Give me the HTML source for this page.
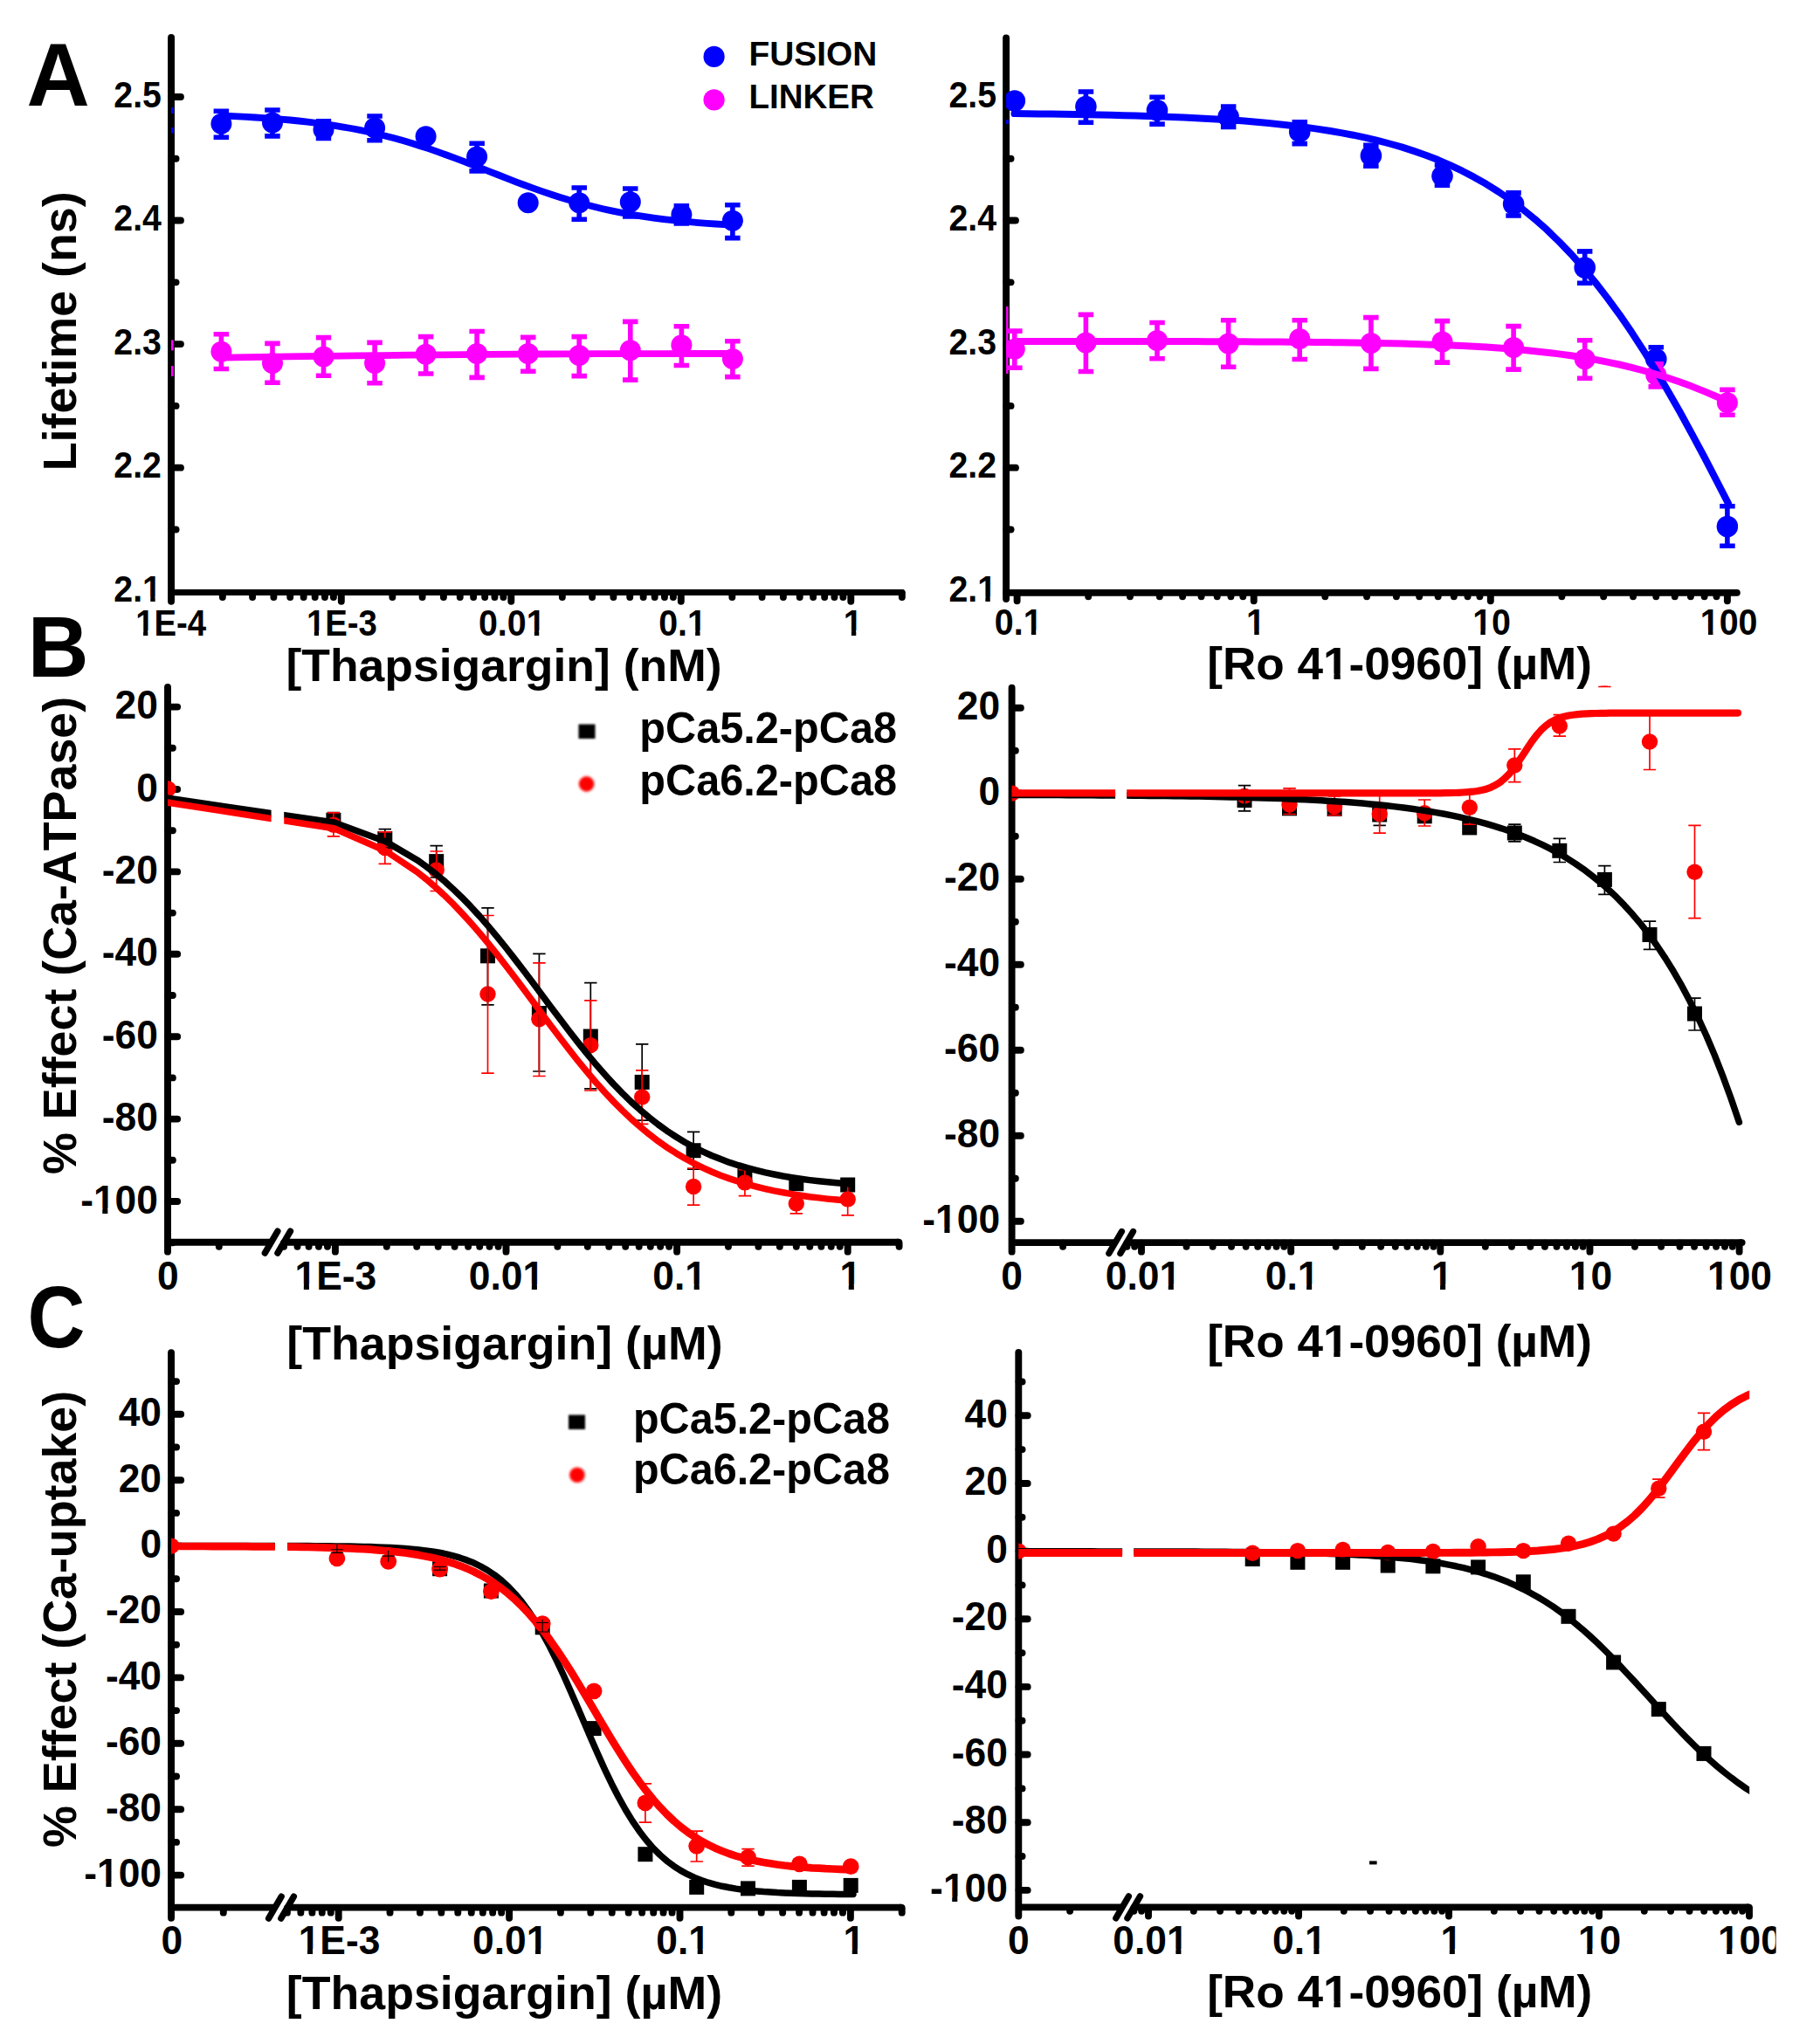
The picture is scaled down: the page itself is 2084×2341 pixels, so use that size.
<!DOCTYPE html><html><head><meta charset="utf-8"><title>figure</title><style>html,body{margin:0;padding:0;background:#fff}svg{display:block}</style></head><body><svg width="2084" height="2341" viewBox="0 0 2084 2341" font-family="Liberation Sans, Arial, Helvetica, sans-serif" font-weight="bold" fill="#000" style="font-kerning:none">
<rect width="2084" height="2341" fill="#fff"/>
<defs><filter id="bl" x="-50%" y="-50%" width="200%" height="200%"><feGaussianBlur stdDeviation="1.1"/></filter><filter id="bl2" x="-50%" y="-50%" width="200%" height="200%"><feGaussianBlur stdDeviation="1.7"/></filter></defs>
<text x="30.50" y="121.30" font-size="102" textLength="72.22" lengthAdjust="spacingAndGlyphs" >A</text>
<text x="31.71" y="774.60" font-size="99" textLength="69.85" lengthAdjust="spacingAndGlyphs" >B</text>
<text x="31.55" y="1542.90" font-size="100" textLength="65.93" lengthAdjust="spacingAndGlyphs" >C</text>
<line x1="196.05" y1="42.95" x2="196.05" y2="688.75" stroke="#000" stroke-width="7.9" stroke-linecap="round"/>
<line x1="196.05" y1="678.50" x2="1032.95" y2="678.50" stroke="#000" stroke-width="6.9" stroke-linecap="round"/>
<line x1="196.35" y1="111.00" x2="206.95" y2="111.00" stroke="#000" stroke-width="7.9" stroke-linecap="round"/>
<line x1="196.35" y1="252.55" x2="206.95" y2="252.55" stroke="#000" stroke-width="7.9" stroke-linecap="round"/>
<line x1="196.35" y1="394.10" x2="206.95" y2="394.10" stroke="#000" stroke-width="7.9" stroke-linecap="round"/>
<line x1="196.35" y1="535.65" x2="206.95" y2="535.65" stroke="#000" stroke-width="7.9" stroke-linecap="round"/>
<line x1="196.35" y1="181.78" x2="201.55" y2="181.78" stroke="#000" stroke-width="7.9" stroke-linecap="round"/>
<line x1="196.35" y1="323.33" x2="201.55" y2="323.33" stroke="#000" stroke-width="7.9" stroke-linecap="round"/>
<line x1="196.35" y1="464.88" x2="201.55" y2="464.88" stroke="#000" stroke-width="7.9" stroke-linecap="round"/>
<line x1="196.35" y1="606.43" x2="201.55" y2="606.43" stroke="#000" stroke-width="7.9" stroke-linecap="round"/>
<line x1="390.80" y1="679.10" x2="390.80" y2="688.75" stroke="#000" stroke-width="7.9" stroke-linecap="round"/>
<line x1="585.30" y1="679.10" x2="585.30" y2="688.75" stroke="#000" stroke-width="7.9" stroke-linecap="round"/>
<line x1="779.80" y1="679.10" x2="779.80" y2="688.75" stroke="#000" stroke-width="7.9" stroke-linecap="round"/>
<line x1="974.30" y1="679.10" x2="974.30" y2="688.75" stroke="#000" stroke-width="7.9" stroke-linecap="round"/>
<line x1="254.85" y1="679.10" x2="254.85" y2="684.05" stroke="#000" stroke-width="7.9" stroke-linecap="round"/>
<line x1="289.10" y1="679.10" x2="289.10" y2="684.05" stroke="#000" stroke-width="7.9" stroke-linecap="round"/>
<line x1="313.40" y1="679.10" x2="313.40" y2="684.05" stroke="#000" stroke-width="7.9" stroke-linecap="round"/>
<line x1="332.25" y1="679.10" x2="332.25" y2="684.05" stroke="#000" stroke-width="7.9" stroke-linecap="round"/>
<line x1="347.65" y1="679.10" x2="347.65" y2="684.05" stroke="#000" stroke-width="7.9" stroke-linecap="round"/>
<line x1="360.67" y1="679.10" x2="360.67" y2="684.05" stroke="#000" stroke-width="7.9" stroke-linecap="round"/>
<line x1="371.95" y1="679.10" x2="371.95" y2="684.05" stroke="#000" stroke-width="7.9" stroke-linecap="round"/>
<line x1="381.90" y1="679.10" x2="381.90" y2="684.05" stroke="#000" stroke-width="7.9" stroke-linecap="round"/>
<line x1="449.35" y1="679.10" x2="449.35" y2="684.05" stroke="#000" stroke-width="7.9" stroke-linecap="round"/>
<line x1="483.60" y1="679.10" x2="483.60" y2="684.05" stroke="#000" stroke-width="7.9" stroke-linecap="round"/>
<line x1="507.90" y1="679.10" x2="507.90" y2="684.05" stroke="#000" stroke-width="7.9" stroke-linecap="round"/>
<line x1="526.75" y1="679.10" x2="526.75" y2="684.05" stroke="#000" stroke-width="7.9" stroke-linecap="round"/>
<line x1="542.15" y1="679.10" x2="542.15" y2="684.05" stroke="#000" stroke-width="7.9" stroke-linecap="round"/>
<line x1="555.17" y1="679.10" x2="555.17" y2="684.05" stroke="#000" stroke-width="7.9" stroke-linecap="round"/>
<line x1="566.45" y1="679.10" x2="566.45" y2="684.05" stroke="#000" stroke-width="7.9" stroke-linecap="round"/>
<line x1="576.40" y1="679.10" x2="576.40" y2="684.05" stroke="#000" stroke-width="7.9" stroke-linecap="round"/>
<line x1="643.85" y1="679.10" x2="643.85" y2="684.05" stroke="#000" stroke-width="7.9" stroke-linecap="round"/>
<line x1="678.10" y1="679.10" x2="678.10" y2="684.05" stroke="#000" stroke-width="7.9" stroke-linecap="round"/>
<line x1="702.40" y1="679.10" x2="702.40" y2="684.05" stroke="#000" stroke-width="7.9" stroke-linecap="round"/>
<line x1="721.25" y1="679.10" x2="721.25" y2="684.05" stroke="#000" stroke-width="7.9" stroke-linecap="round"/>
<line x1="736.65" y1="679.10" x2="736.65" y2="684.05" stroke="#000" stroke-width="7.9" stroke-linecap="round"/>
<line x1="749.67" y1="679.10" x2="749.67" y2="684.05" stroke="#000" stroke-width="7.9" stroke-linecap="round"/>
<line x1="760.95" y1="679.10" x2="760.95" y2="684.05" stroke="#000" stroke-width="7.9" stroke-linecap="round"/>
<line x1="770.90" y1="679.10" x2="770.90" y2="684.05" stroke="#000" stroke-width="7.9" stroke-linecap="round"/>
<line x1="838.35" y1="679.10" x2="838.35" y2="684.05" stroke="#000" stroke-width="7.9" stroke-linecap="round"/>
<line x1="872.60" y1="679.10" x2="872.60" y2="684.05" stroke="#000" stroke-width="7.9" stroke-linecap="round"/>
<line x1="896.90" y1="679.10" x2="896.90" y2="684.05" stroke="#000" stroke-width="7.9" stroke-linecap="round"/>
<line x1="915.75" y1="679.10" x2="915.75" y2="684.05" stroke="#000" stroke-width="7.9" stroke-linecap="round"/>
<line x1="931.15" y1="679.10" x2="931.15" y2="684.05" stroke="#000" stroke-width="7.9" stroke-linecap="round"/>
<line x1="944.17" y1="679.10" x2="944.17" y2="684.05" stroke="#000" stroke-width="7.9" stroke-linecap="round"/>
<line x1="955.45" y1="679.10" x2="955.45" y2="684.05" stroke="#000" stroke-width="7.9" stroke-linecap="round"/>
<line x1="965.40" y1="679.10" x2="965.40" y2="684.05" stroke="#000" stroke-width="7.9" stroke-linecap="round"/>
<line x1="1032.85" y1="679.10" x2="1032.85" y2="684.05" stroke="#000" stroke-width="7.9" stroke-linecap="round"/>
<text x="130.35" y="122.70" font-size="42" textLength="54.60" lengthAdjust="spacingAndGlyphs" >2.5</text>
<text x="130.35" y="264.25" font-size="42" textLength="54.60" lengthAdjust="spacingAndGlyphs" >2.4</text>
<text x="130.35" y="405.80" font-size="42" textLength="54.60" lengthAdjust="spacingAndGlyphs" >2.3</text>
<text x="130.35" y="547.35" font-size="42" textLength="54.60" lengthAdjust="spacingAndGlyphs" >2.2</text>
<text x="130.35" y="688.90" font-size="42" textLength="54.60" lengthAdjust="spacingAndGlyphs" >2.1</text>
<path d="M164.38,683.51H172.27V690.10H164.38ZM177.66,683.51H185.06V690.10H177.66Z" fill="#fff" />
<text x="155.15" y="727.50" font-size="42" textLength="80.98" lengthAdjust="spacingAndGlyphs" >1E-4</text>
<path d="M156.37,722.11H164.10V728.70H156.37ZM169.36,722.11H176.61V728.70H169.36Z" fill="#fff" />
<text x="350.88" y="727.50" font-size="42" textLength="80.98" lengthAdjust="spacingAndGlyphs" >1E-3</text>
<path d="M352.09,722.11H359.82V728.70H352.09ZM365.08,722.11H372.33V728.70H365.08Z" fill="#fff" />
<text x="547.93" y="727.50" font-size="42" textLength="76.61" lengthAdjust="spacingAndGlyphs" >0.01</text>
<path d="M603.93,722.11H611.84V728.70H603.93ZM617.24,722.11H624.64V728.70H617.24Z" fill="#fff" />
<text x="754.16" y="727.50" font-size="42" textLength="54.72" lengthAdjust="spacingAndGlyphs" >0.1</text>
<path d="M788.26,722.11H796.17V728.70H788.26ZM801.57,722.11H808.98V728.70H801.57Z" fill="#fff" />
<text x="965.69" y="727.50" font-size="42" textLength="21.89" lengthAdjust="spacingAndGlyphs" >1</text>
<path d="M966.97,722.11H974.88V728.70H966.97ZM980.28,722.11H987.69V728.70H980.28Z" fill="#fff" />
<text x="327.46" y="779.70" font-size="52.5" textLength="499.07" lengthAdjust="spacingAndGlyphs" >[Thapsigargin] (nM)</text>
<text x="87.00" y="539.30" font-size="53.5" textLength="319.99" lengthAdjust="spacingAndGlyphs" transform="rotate(-90 87.00 539.30)" >Lifetime (ns)</text>
<circle cx="817.6" cy="64.9" r="12.1" fill="#0000ff" />
<circle cx="817.6" cy="114.4" r="12.1" fill="#ff00ff" />
<text x="857.47" y="75.00" font-size="39.5" textLength="146.76" lengthAdjust="spacingAndGlyphs" >FUSION</text>
<text x="857.50" y="123.50" font-size="39.5" textLength="143.36" lengthAdjust="spacingAndGlyphs" >LINKER</text>
<clipPath id="cp1"><rect x="196.1" y="30.0" width="844.0" height="650.0"/></clipPath>
<g clip-path="url(#cp1)">
<path d="M253.4,127.2V157.3M244.6,127.2H262.1M244.6,157.3H262.1" stroke="#0000ff" stroke-width="5.6" fill="none"/>
<path d="M312.0,126.0V155.9M303.2,126.0H320.7M303.2,155.9H320.7" stroke="#0000ff" stroke-width="5.6" fill="none"/>
<path d="M370.5,138.7V158.5M361.8,138.7H379.2M361.8,158.5H379.2" stroke="#0000ff" stroke-width="5.6" fill="none"/>
<path d="M429.1,133.0V160.8M420.3,133.0H437.8M420.3,160.8H437.8" stroke="#0000ff" stroke-width="5.6" fill="none"/>
<path d="M546.1,164.3V195.9M537.4,164.3H554.9M537.4,195.9H554.9" stroke="#0000ff" stroke-width="5.6" fill="none"/>
<path d="M663.2,215.0V251.2M654.5,215.0H672.0M654.5,251.2H672.0" stroke="#0000ff" stroke-width="5.6" fill="none"/>
<path d="M721.8,216.0V248.0M713.0,216.0H730.5M713.0,248.0H730.5" stroke="#0000ff" stroke-width="5.6" fill="none"/>
<path d="M780.4,235.8V255.9M771.6,235.8H789.1M771.6,255.9H789.1" stroke="#0000ff" stroke-width="5.6" fill="none"/>
<path d="M838.9,234.7V272.6M830.1,234.7H847.6M830.1,272.6H847.6" stroke="#0000ff" stroke-width="5.6" fill="none"/>
<circle cx="253.4" cy="141.8" r="12" fill="#0000ff" />
<circle cx="312.0" cy="140.5" r="12" fill="#0000ff" />
<circle cx="370.5" cy="148.6" r="12" fill="#0000ff" />
<circle cx="429.1" cy="146.6" r="12" fill="#0000ff" />
<circle cx="487.6" cy="156.3" r="12" fill="#0000ff" />
<circle cx="546.1" cy="179.6" r="12" fill="#0000ff" />
<circle cx="604.7" cy="232.3" r="12" fill="#0000ff" />
<circle cx="663.2" cy="232.2" r="12" fill="#0000ff" />
<circle cx="721.8" cy="231.3" r="12" fill="#0000ff" />
<circle cx="780.4" cy="245.8" r="12" fill="#0000ff" />
<circle cx="838.9" cy="252.8" r="12" fill="#0000ff" />
<path d="M253.4,382.8V422.5M244.6,382.8H262.1M244.6,422.5H262.1" stroke="#ff00ff" stroke-width="5.6" fill="none"/>
<path d="M312.0,393.4V438.2M303.2,393.4H320.7M303.2,438.2H320.7" stroke="#ff00ff" stroke-width="5.6" fill="none"/>
<path d="M370.5,386.6V430.3M361.8,386.6H379.2M361.8,430.3H379.2" stroke="#ff00ff" stroke-width="5.6" fill="none"/>
<path d="M429.1,392.4V438.7M420.3,392.4H437.8M420.3,438.7H437.8" stroke="#ff00ff" stroke-width="5.6" fill="none"/>
<path d="M487.6,385.6V428.0M478.9,385.6H496.4M478.9,428.0H496.4" stroke="#ff00ff" stroke-width="5.6" fill="none"/>
<path d="M546.1,379.5V432.4M537.4,379.5H554.9M537.4,432.4H554.9" stroke="#ff00ff" stroke-width="5.6" fill="none"/>
<path d="M604.7,386.4V425.3M596.0,386.4H613.5M596.0,425.3H613.5" stroke="#ff00ff" stroke-width="5.6" fill="none"/>
<path d="M663.2,385.6V430.6M654.5,385.6H672.0M654.5,430.6H672.0" stroke="#ff00ff" stroke-width="5.6" fill="none"/>
<path d="M721.8,368.4V435.1M713.0,368.4H730.5M713.0,435.1H730.5" stroke="#ff00ff" stroke-width="5.6" fill="none"/>
<path d="M780.4,373.7V418.5M771.6,373.7H789.1M771.6,418.5H789.1" stroke="#ff00ff" stroke-width="5.6" fill="none"/>
<path d="M838.9,390.7V431.6M830.1,390.7H847.6M830.1,431.6H847.6" stroke="#ff00ff" stroke-width="5.6" fill="none"/>
<circle cx="253.4" cy="402.8" r="12" fill="#ff00ff" />
<circle cx="312.0" cy="416.0" r="12" fill="#ff00ff" />
<circle cx="370.5" cy="408.4" r="12" fill="#ff00ff" />
<circle cx="429.1" cy="416.0" r="12" fill="#ff00ff" />
<circle cx="487.6" cy="405.8" r="12" fill="#ff00ff" />
<circle cx="546.1" cy="405.0" r="12" fill="#ff00ff" />
<circle cx="604.7" cy="405.0" r="12" fill="#ff00ff" />
<circle cx="663.2" cy="407.0" r="12" fill="#ff00ff" />
<circle cx="721.8" cy="401.3" r="12" fill="#ff00ff" />
<circle cx="780.4" cy="395.2" r="12" fill="#ff00ff" />
<circle cx="838.9" cy="410.9" r="12" fill="#ff00ff" />
<path d="M252.5,132.5 L262.4,132.9 L272.4,133.3 L282.3,133.9 L292.3,134.5 L302.2,135.1 L312.2,135.8 L322.1,136.6 L332.1,137.5 L342.0,138.5 L352.0,139.6 L361.9,140.8 L371.9,142.2 L381.8,143.6 L391.8,145.3 L401.7,147.0 L411.7,148.9 L421.6,151.0 L431.6,153.3 L441.5,155.7 L451.5,158.3 L461.4,161.1 L471.4,164.0 L481.3,167.2 L491.3,170.4 L501.2,173.9 L511.2,177.5 L521.1,181.1 L531.1,184.9 L541.0,188.8 L551.0,192.7 L560.9,196.6 L570.9,200.5 L580.8,204.4 L590.8,208.3 L600.7,212.0 L610.7,215.6 L620.6,219.1 L630.6,222.5 L640.5,225.7 L650.5,228.8 L660.4,231.6 L670.4,234.3 L680.3,236.8 L690.3,239.2 L700.2,241.4 L710.2,243.4 L720.1,245.2 L730.1,246.9 L740.0,248.4 L750.0,249.8 L759.9,251.1 L769.9,252.2 L779.8,253.3 L789.8,254.2 L799.7,255.1 L809.7,255.8 L819.6,256.5 L829.6,257.2 L839.5,257.7" fill="none" stroke="#0000ff" stroke-width="7.8" stroke-linecap="butt" stroke-linejoin="round" />
<path d="M252.5,409.6 L283.4,409.1 L314.3,408.7 L345.2,408.2 L376.1,407.8 L407.0,407.4 L437.9,407.1 L468.8,406.7 L499.7,406.4 L530.6,406.2 L561.4,405.9 L592.3,405.7 L623.2,405.5 L654.1,405.4 L685.0,405.2 L715.9,405.1 L746.8,405.1 L777.7,405.0 L808.6,405.0 L839.5,405.0" fill="none" stroke="#ff00ff" stroke-width="7.8" stroke-linecap="butt" stroke-linejoin="round" />
</g>
<rect x="196.0" y="123.0" width="3.1" height="7.0" fill="#0000ff"/>
<rect x="196.0" y="146.0" width="3.1" height="6.5" fill="#0000ff"/>
<rect x="196.0" y="389.4" width="2.6" height="12.0" fill="#ff00ff"/>
<rect x="196.0" y="419.0" width="2.6" height="12.0" fill="#ff00ff"/>
<line x1="1152.10" y1="43.55" x2="1152.10" y2="686.05" stroke="#000" stroke-width="7.9" stroke-linecap="round"/>
<line x1="1152.10" y1="678.80" x2="1988.90" y2="678.80" stroke="#000" stroke-width="7.8" stroke-linecap="round"/>
<line x1="1152.40" y1="111.00" x2="1162.95" y2="111.00" stroke="#000" stroke-width="7.9" stroke-linecap="round"/>
<line x1="1152.40" y1="252.55" x2="1162.95" y2="252.55" stroke="#000" stroke-width="7.9" stroke-linecap="round"/>
<line x1="1152.40" y1="394.10" x2="1162.95" y2="394.10" stroke="#000" stroke-width="7.9" stroke-linecap="round"/>
<line x1="1152.40" y1="535.65" x2="1162.95" y2="535.65" stroke="#000" stroke-width="7.9" stroke-linecap="round"/>
<line x1="1152.40" y1="181.78" x2="1157.55" y2="181.78" stroke="#000" stroke-width="7.9" stroke-linecap="round"/>
<line x1="1152.40" y1="323.33" x2="1157.55" y2="323.33" stroke="#000" stroke-width="7.9" stroke-linecap="round"/>
<line x1="1152.40" y1="464.88" x2="1157.55" y2="464.88" stroke="#000" stroke-width="7.9" stroke-linecap="round"/>
<line x1="1152.40" y1="606.43" x2="1157.55" y2="606.43" stroke="#000" stroke-width="7.9" stroke-linecap="round"/>
<line x1="1164.60" y1="679.40" x2="1164.60" y2="688.35" stroke="#000" stroke-width="7.9" stroke-linecap="round"/>
<line x1="1435.70" y1="679.40" x2="1435.70" y2="688.35" stroke="#000" stroke-width="7.9" stroke-linecap="round"/>
<line x1="1706.80" y1="679.40" x2="1706.80" y2="688.35" stroke="#000" stroke-width="7.9" stroke-linecap="round"/>
<line x1="1977.90" y1="679.40" x2="1977.90" y2="688.35" stroke="#000" stroke-width="7.9" stroke-linecap="round"/>
<line x1="1246.21" y1="679.40" x2="1246.21" y2="683.25" stroke="#000" stroke-width="7.9" stroke-linecap="round"/>
<line x1="1293.95" y1="679.40" x2="1293.95" y2="683.25" stroke="#000" stroke-width="7.9" stroke-linecap="round"/>
<line x1="1327.82" y1="679.40" x2="1327.82" y2="683.25" stroke="#000" stroke-width="7.9" stroke-linecap="round"/>
<line x1="1354.09" y1="679.40" x2="1354.09" y2="683.25" stroke="#000" stroke-width="7.9" stroke-linecap="round"/>
<line x1="1375.56" y1="679.40" x2="1375.56" y2="683.25" stroke="#000" stroke-width="7.9" stroke-linecap="round"/>
<line x1="1393.71" y1="679.40" x2="1393.71" y2="683.25" stroke="#000" stroke-width="7.9" stroke-linecap="round"/>
<line x1="1409.43" y1="679.40" x2="1409.43" y2="683.25" stroke="#000" stroke-width="7.9" stroke-linecap="round"/>
<line x1="1423.30" y1="679.40" x2="1423.30" y2="683.25" stroke="#000" stroke-width="7.9" stroke-linecap="round"/>
<line x1="1517.31" y1="679.40" x2="1517.31" y2="683.25" stroke="#000" stroke-width="7.9" stroke-linecap="round"/>
<line x1="1565.05" y1="679.40" x2="1565.05" y2="683.25" stroke="#000" stroke-width="7.9" stroke-linecap="round"/>
<line x1="1598.92" y1="679.40" x2="1598.92" y2="683.25" stroke="#000" stroke-width="7.9" stroke-linecap="round"/>
<line x1="1625.19" y1="679.40" x2="1625.19" y2="683.25" stroke="#000" stroke-width="7.9" stroke-linecap="round"/>
<line x1="1646.66" y1="679.40" x2="1646.66" y2="683.25" stroke="#000" stroke-width="7.9" stroke-linecap="round"/>
<line x1="1664.81" y1="679.40" x2="1664.81" y2="683.25" stroke="#000" stroke-width="7.9" stroke-linecap="round"/>
<line x1="1680.53" y1="679.40" x2="1680.53" y2="683.25" stroke="#000" stroke-width="7.9" stroke-linecap="round"/>
<line x1="1694.40" y1="679.40" x2="1694.40" y2="683.25" stroke="#000" stroke-width="7.9" stroke-linecap="round"/>
<line x1="1788.41" y1="679.40" x2="1788.41" y2="683.25" stroke="#000" stroke-width="7.9" stroke-linecap="round"/>
<line x1="1836.15" y1="679.40" x2="1836.15" y2="683.25" stroke="#000" stroke-width="7.9" stroke-linecap="round"/>
<line x1="1870.02" y1="679.40" x2="1870.02" y2="683.25" stroke="#000" stroke-width="7.9" stroke-linecap="round"/>
<line x1="1896.29" y1="679.40" x2="1896.29" y2="683.25" stroke="#000" stroke-width="7.9" stroke-linecap="round"/>
<line x1="1917.76" y1="679.40" x2="1917.76" y2="683.25" stroke="#000" stroke-width="7.9" stroke-linecap="round"/>
<line x1="1935.91" y1="679.40" x2="1935.91" y2="683.25" stroke="#000" stroke-width="7.9" stroke-linecap="round"/>
<line x1="1951.63" y1="679.40" x2="1951.63" y2="683.25" stroke="#000" stroke-width="7.9" stroke-linecap="round"/>
<line x1="1965.50" y1="679.40" x2="1965.50" y2="683.25" stroke="#000" stroke-width="7.9" stroke-linecap="round"/>
<text x="1086.45" y="122.70" font-size="42" textLength="54.60" lengthAdjust="spacingAndGlyphs" >2.5</text>
<text x="1086.45" y="264.25" font-size="42" textLength="54.60" lengthAdjust="spacingAndGlyphs" >2.4</text>
<text x="1086.45" y="405.80" font-size="42" textLength="54.60" lengthAdjust="spacingAndGlyphs" >2.3</text>
<text x="1086.45" y="547.35" font-size="42" textLength="54.60" lengthAdjust="spacingAndGlyphs" >2.2</text>
<text x="1086.45" y="688.90" font-size="42" textLength="54.60" lengthAdjust="spacingAndGlyphs" >2.1</text>
<path d="M1120.48,683.51H1128.37V690.10H1120.48ZM1133.76,683.51H1141.16V690.10H1133.76Z" fill="#fff" />
<text x="1138.86" y="727.40" font-size="42" textLength="54.72" lengthAdjust="spacingAndGlyphs" >0.1</text>
<path d="M1172.96,722.01H1180.87V728.60H1172.96ZM1186.27,722.01H1193.68V728.60H1186.27Z" fill="#fff" />
<text x="1427.09" y="727.40" font-size="42" textLength="21.89" lengthAdjust="spacingAndGlyphs" >1</text>
<path d="M1428.37,722.01H1436.28V728.60H1428.37ZM1441.68,722.01H1449.09V728.60H1441.68Z" fill="#fff" />
<text x="1686.16" y="727.40" font-size="42" textLength="43.78" lengthAdjust="spacingAndGlyphs" >10</text>
<path d="M1687.44,722.01H1695.35V728.60H1687.44ZM1700.75,722.01H1708.16V728.60H1700.75Z" fill="#fff" />
<text x="1946.84" y="727.40" font-size="42" textLength="65.67" lengthAdjust="spacingAndGlyphs" >100</text>
<path d="M1948.12,722.01H1956.03V728.60H1948.12ZM1961.43,722.01H1968.83V728.60H1961.43Z" fill="#fff" />
<text x="1382.28" y="778.00" font-size="52.5" textLength="440.78" lengthAdjust="spacingAndGlyphs" >[Ro 41-0960] (µM)</text>
<path d="M1517.19,771.54H1527.44V779.20H1517.19ZM1534.72,771.54H1544.30V779.20H1534.72Z" fill="#fff" />
<rect x="1833.0" y="785.6" width="8.0" height="1.4" fill="#ff0000"/>
<clipPath id="cp2"><rect x="1152.1" y="30.0" width="838.2" height="648.0"/></clipPath>
<g clip-path="url(#cp2)">
<path d="M1243.4,105.0V140.2M1234.7,105.0H1252.2M1234.7,140.2H1252.2" stroke="#0000ff" stroke-width="5.6" fill="none"/>
<path d="M1325.0,111.3V142.1M1316.3,111.3H1333.8M1316.3,142.1H1333.8" stroke="#0000ff" stroke-width="5.6" fill="none"/>
<path d="M1406.6,122.0V145.4M1397.9,122.0H1415.4M1397.9,145.4H1415.4" stroke="#0000ff" stroke-width="5.6" fill="none"/>
<path d="M1488.2,139.9V164.6M1479.5,139.9H1497.0M1479.5,164.6H1497.0" stroke="#0000ff" stroke-width="5.6" fill="none"/>
<path d="M1569.9,166.3V190.2M1561.1,166.3H1578.6M1561.1,190.2H1578.6" stroke="#0000ff" stroke-width="5.6" fill="none"/>
<path d="M1651.5,189.0V212.3M1642.7,189.0H1660.2M1642.7,212.3H1660.2" stroke="#0000ff" stroke-width="5.6" fill="none"/>
<path d="M1733.1,220.9V247.0M1724.3,220.9H1741.8M1724.3,247.0H1741.8" stroke="#0000ff" stroke-width="5.6" fill="none"/>
<path d="M1814.7,287.9V324.2M1805.9,287.9H1823.4M1805.9,324.2H1823.4" stroke="#0000ff" stroke-width="5.6" fill="none"/>
<path d="M1896.3,397.8V425.0M1887.5,397.8H1905.0M1887.5,425.0H1905.0" stroke="#0000ff" stroke-width="5.6" fill="none"/>
<path d="M1977.9,579.7V625.3M1969.2,579.7H1986.7M1969.2,625.3H1986.7" stroke="#0000ff" stroke-width="5.6" fill="none"/>
<circle cx="1161.8" cy="115.5" r="12.3" fill="#0000ff" />
<circle cx="1243.4" cy="122.0" r="12.3" fill="#0000ff" />
<circle cx="1325.0" cy="126.2" r="12.3" fill="#0000ff" />
<circle cx="1406.6" cy="133.8" r="12.3" fill="#0000ff" />
<circle cx="1488.2" cy="150.9" r="12.3" fill="#0000ff" />
<circle cx="1569.9" cy="178.3" r="12.3" fill="#0000ff" />
<circle cx="1651.5" cy="201.6" r="12.3" fill="#0000ff" />
<circle cx="1733.1" cy="233.8" r="12.3" fill="#0000ff" />
<circle cx="1814.7" cy="306.5" r="12.3" fill="#0000ff" />
<circle cx="1896.3" cy="411.3" r="12.3" fill="#0000ff" />
<circle cx="1977.9" cy="603.0" r="12.3" fill="#0000ff" />
<path d="M1161.8,379.1V421.2M1153.1,379.1H1170.6M1153.1,421.2H1170.6" stroke="#ff00ff" stroke-width="5.6" fill="none"/>
<path d="M1243.4,360.4V425.5M1234.7,360.4H1252.2M1234.7,425.5H1252.2" stroke="#ff00ff" stroke-width="5.6" fill="none"/>
<path d="M1325.0,369.5V410.7M1316.3,369.5H1333.8M1316.3,410.7H1333.8" stroke="#ff00ff" stroke-width="5.6" fill="none"/>
<path d="M1406.6,366.8V420.3M1397.9,366.8H1415.4M1397.9,420.3H1415.4" stroke="#ff00ff" stroke-width="5.6" fill="none"/>
<path d="M1488.2,366.8V411.5M1479.5,366.8H1497.0M1479.5,411.5H1497.0" stroke="#ff00ff" stroke-width="5.6" fill="none"/>
<path d="M1569.9,363.6V422.4M1561.1,363.6H1578.6M1561.1,422.4H1578.6" stroke="#ff00ff" stroke-width="5.6" fill="none"/>
<path d="M1651.5,367.6V415.1M1642.7,367.6H1660.2M1642.7,415.1H1660.2" stroke="#ff00ff" stroke-width="5.6" fill="none"/>
<path d="M1733.1,373.6V423.1M1724.3,373.6H1741.8M1724.3,423.1H1741.8" stroke="#ff00ff" stroke-width="5.6" fill="none"/>
<path d="M1814.7,389.8V433.2M1805.9,389.8H1823.4M1805.9,433.2H1823.4" stroke="#ff00ff" stroke-width="5.6" fill="none"/>
<path d="M1896.3,416.8V442.9M1887.5,416.8H1905.0M1887.5,442.9H1905.0" stroke="#ff00ff" stroke-width="5.6" fill="none"/>
<path d="M1977.9,446.4V475.3M1969.2,446.4H1986.7M1969.2,475.3H1986.7" stroke="#ff00ff" stroke-width="5.6" fill="none"/>
<circle cx="1161.8" cy="399.7" r="12" fill="#ff00ff" />
<circle cx="1243.4" cy="392.6" r="12" fill="#ff00ff" />
<circle cx="1325.0" cy="390.1" r="12" fill="#ff00ff" />
<circle cx="1406.6" cy="393.4" r="12" fill="#ff00ff" />
<circle cx="1488.2" cy="387.9" r="12" fill="#ff00ff" />
<circle cx="1569.9" cy="392.9" r="12" fill="#ff00ff" />
<circle cx="1651.5" cy="391.5" r="12" fill="#ff00ff" />
<circle cx="1733.1" cy="398.1" r="12" fill="#ff00ff" />
<circle cx="1814.7" cy="411.3" r="12" fill="#ff00ff" />
<circle cx="1896.3" cy="429.5" r="12" fill="#ff00ff" />
<circle cx="1977.9" cy="461.3" r="12" fill="#ff00ff" />
<path d="M1161.5,130.1 L1175.4,130.3 L1189.2,130.4 L1203.1,130.6 L1216.9,130.8 L1230.8,131.0 L1244.6,131.3 L1258.5,131.5 L1272.3,131.8 L1286.2,132.2 L1300.1,132.5 L1313.9,133.0 L1327.8,133.4 L1341.6,134.0 L1355.5,134.5 L1369.3,135.2 L1383.2,135.9 L1397.1,136.7 L1410.9,137.6 L1424.8,138.6 L1438.6,139.7 L1452.5,141.0 L1466.3,142.4 L1480.2,143.9 L1494.0,145.6 L1507.9,147.6 L1521.8,149.7 L1535.6,152.1 L1549.5,154.7 L1563.3,157.6 L1577.2,160.9 L1591.0,164.5 L1604.9,168.4 L1618.7,172.9 L1632.6,177.7 L1646.5,183.1 L1660.3,189.1 L1674.2,195.7 L1688.0,202.9 L1701.9,210.8 L1715.7,219.5 L1729.6,229.0 L1743.4,239.5 L1757.3,250.8 L1771.2,263.1 L1785.0,276.5 L1798.9,290.9 L1812.7,306.5 L1826.6,323.2 L1840.4,341.1 L1854.3,360.1 L1868.2,380.3 L1882.0,401.6 L1895.9,424.0 L1909.7,447.5 L1923.6,471.8 L1937.4,497.1 L1951.3,523.0 L1965.1,549.6 L1979.0,576.6" fill="none" stroke="#0000ff" stroke-width="8" stroke-linecap="round" stroke-linejoin="round" />
<path d="M1161.5,390.9 L1175.4,390.9 L1189.2,390.9 L1203.1,390.9 L1216.9,390.9 L1230.8,390.9 L1244.6,390.9 L1258.5,391.0 L1272.3,391.0 L1286.2,391.0 L1300.1,391.0 L1313.9,391.0 L1327.8,391.0 L1341.6,391.1 L1355.5,391.1 L1369.3,391.1 L1383.2,391.2 L1397.1,391.2 L1410.9,391.3 L1424.8,391.3 L1438.6,391.4 L1452.5,391.5 L1466.3,391.6 L1480.2,391.7 L1494.0,391.8 L1507.9,391.9 L1521.8,392.1 L1535.6,392.3 L1549.5,392.5 L1563.3,392.7 L1577.2,392.9 L1591.0,393.2 L1604.9,393.6 L1618.7,394.0 L1632.6,394.4 L1646.5,394.9 L1660.3,395.5 L1674.2,396.1 L1688.0,396.8 L1701.9,397.6 L1715.7,398.6 L1729.6,399.6 L1743.4,400.8 L1757.3,402.2 L1771.2,403.7 L1785.0,405.4 L1798.9,407.3 L1812.7,409.5 L1826.6,411.9 L1840.4,414.6 L1854.3,417.5 L1868.2,420.8 L1882.0,424.5 L1895.9,428.5 L1909.7,432.8 L1923.6,437.5 L1937.4,442.6 L1951.3,448.1 L1965.1,454.0 L1979.0,460.2" fill="none" stroke="#ff00ff" stroke-width="8" stroke-linecap="butt" stroke-linejoin="round" />
</g>
<rect x="1152.1" y="351.0" width="2.4" height="77.0" fill="#ff00ff"/>
<rect x="1152.1" y="137.1" width="2.8" height="5.0" fill="#0000ff"/>
<line x1="192.00" y1="786.95" x2="192.00" y2="1433.65" stroke="#000" stroke-width="7.9" stroke-linecap="round"/>
<line x1="192.00" y1="1422.80" x2="310.60" y2="1422.80" stroke="#000" stroke-width="7.9" stroke-linecap="butt"/>
<line x1="325.20" y1="1422.80" x2="1029.05" y2="1422.80" stroke="#000" stroke-width="7.9" stroke-linecap="butt"/>
<line x1="1028.05" y1="1422.80" x2="1029.05" y2="1422.80" stroke="#000" stroke-width="7.9" stroke-linecap="round"/>
<line x1="192.30" y1="809.60" x2="203.15" y2="809.60" stroke="#000" stroke-width="7.9" stroke-linecap="round"/>
<line x1="192.30" y1="904.00" x2="203.15" y2="904.00" stroke="#000" stroke-width="7.9" stroke-linecap="round"/>
<line x1="192.30" y1="998.40" x2="203.15" y2="998.40" stroke="#000" stroke-width="7.9" stroke-linecap="round"/>
<line x1="192.30" y1="1092.80" x2="203.15" y2="1092.80" stroke="#000" stroke-width="7.9" stroke-linecap="round"/>
<line x1="192.30" y1="1187.20" x2="203.15" y2="1187.20" stroke="#000" stroke-width="7.9" stroke-linecap="round"/>
<line x1="192.30" y1="1281.60" x2="203.15" y2="1281.60" stroke="#000" stroke-width="7.9" stroke-linecap="round"/>
<line x1="192.30" y1="1376.00" x2="203.15" y2="1376.00" stroke="#000" stroke-width="7.9" stroke-linecap="round"/>
<line x1="192.30" y1="856.80" x2="197.85" y2="856.80" stroke="#000" stroke-width="7.9" stroke-linecap="round"/>
<line x1="192.30" y1="951.20" x2="197.85" y2="951.20" stroke="#000" stroke-width="7.9" stroke-linecap="round"/>
<line x1="192.30" y1="1045.60" x2="197.85" y2="1045.60" stroke="#000" stroke-width="7.9" stroke-linecap="round"/>
<line x1="192.30" y1="1140.00" x2="197.85" y2="1140.00" stroke="#000" stroke-width="7.9" stroke-linecap="round"/>
<line x1="192.30" y1="1234.40" x2="197.85" y2="1234.40" stroke="#000" stroke-width="7.9" stroke-linecap="round"/>
<line x1="192.30" y1="1328.80" x2="197.85" y2="1328.80" stroke="#000" stroke-width="7.9" stroke-linecap="round"/>
<line x1="192.30" y1="1423.20" x2="197.85" y2="1423.20" stroke="#000" stroke-width="7.9" stroke-linecap="round"/>
<line x1="383.90" y1="1423.40" x2="383.90" y2="1433.65" stroke="#000" stroke-width="7.9" stroke-linecap="round"/>
<line x1="579.50" y1="1423.40" x2="579.50" y2="1433.65" stroke="#000" stroke-width="7.9" stroke-linecap="round"/>
<line x1="775.10" y1="1423.40" x2="775.10" y2="1433.65" stroke="#000" stroke-width="7.9" stroke-linecap="round"/>
<line x1="970.70" y1="1423.40" x2="970.70" y2="1433.65" stroke="#000" stroke-width="7.9" stroke-linecap="round"/>
<line x1="250.80" y1="1423.40" x2="250.80" y2="1427.85" stroke="#000" stroke-width="7.9" stroke-linecap="round"/>
<line x1="325.02" y1="1423.40" x2="325.02" y2="1427.85" stroke="#000" stroke-width="7.9" stroke-linecap="round"/>
<line x1="340.51" y1="1423.40" x2="340.51" y2="1427.85" stroke="#000" stroke-width="7.9" stroke-linecap="round"/>
<line x1="353.60" y1="1423.40" x2="353.60" y2="1427.85" stroke="#000" stroke-width="7.9" stroke-linecap="round"/>
<line x1="364.94" y1="1423.40" x2="364.94" y2="1427.85" stroke="#000" stroke-width="7.9" stroke-linecap="round"/>
<line x1="374.95" y1="1423.40" x2="374.95" y2="1427.85" stroke="#000" stroke-width="7.9" stroke-linecap="round"/>
<line x1="442.78" y1="1423.40" x2="442.78" y2="1427.85" stroke="#000" stroke-width="7.9" stroke-linecap="round"/>
<line x1="477.22" y1="1423.40" x2="477.22" y2="1427.85" stroke="#000" stroke-width="7.9" stroke-linecap="round"/>
<line x1="501.66" y1="1423.40" x2="501.66" y2="1427.85" stroke="#000" stroke-width="7.9" stroke-linecap="round"/>
<line x1="520.62" y1="1423.40" x2="520.62" y2="1427.85" stroke="#000" stroke-width="7.9" stroke-linecap="round"/>
<line x1="536.11" y1="1423.40" x2="536.11" y2="1427.85" stroke="#000" stroke-width="7.9" stroke-linecap="round"/>
<line x1="549.20" y1="1423.40" x2="549.20" y2="1427.85" stroke="#000" stroke-width="7.9" stroke-linecap="round"/>
<line x1="560.54" y1="1423.40" x2="560.54" y2="1427.85" stroke="#000" stroke-width="7.9" stroke-linecap="round"/>
<line x1="570.55" y1="1423.40" x2="570.55" y2="1427.85" stroke="#000" stroke-width="7.9" stroke-linecap="round"/>
<line x1="638.38" y1="1423.40" x2="638.38" y2="1427.85" stroke="#000" stroke-width="7.9" stroke-linecap="round"/>
<line x1="672.82" y1="1423.40" x2="672.82" y2="1427.85" stroke="#000" stroke-width="7.9" stroke-linecap="round"/>
<line x1="697.26" y1="1423.40" x2="697.26" y2="1427.85" stroke="#000" stroke-width="7.9" stroke-linecap="round"/>
<line x1="716.22" y1="1423.40" x2="716.22" y2="1427.85" stroke="#000" stroke-width="7.9" stroke-linecap="round"/>
<line x1="731.71" y1="1423.40" x2="731.71" y2="1427.85" stroke="#000" stroke-width="7.9" stroke-linecap="round"/>
<line x1="744.80" y1="1423.40" x2="744.80" y2="1427.85" stroke="#000" stroke-width="7.9" stroke-linecap="round"/>
<line x1="756.14" y1="1423.40" x2="756.14" y2="1427.85" stroke="#000" stroke-width="7.9" stroke-linecap="round"/>
<line x1="766.15" y1="1423.40" x2="766.15" y2="1427.85" stroke="#000" stroke-width="7.9" stroke-linecap="round"/>
<line x1="833.98" y1="1423.40" x2="833.98" y2="1427.85" stroke="#000" stroke-width="7.9" stroke-linecap="round"/>
<line x1="868.42" y1="1423.40" x2="868.42" y2="1427.85" stroke="#000" stroke-width="7.9" stroke-linecap="round"/>
<line x1="892.86" y1="1423.40" x2="892.86" y2="1427.85" stroke="#000" stroke-width="7.9" stroke-linecap="round"/>
<line x1="911.82" y1="1423.40" x2="911.82" y2="1427.85" stroke="#000" stroke-width="7.9" stroke-linecap="round"/>
<line x1="927.31" y1="1423.40" x2="927.31" y2="1427.85" stroke="#000" stroke-width="7.9" stroke-linecap="round"/>
<line x1="940.40" y1="1423.40" x2="940.40" y2="1427.85" stroke="#000" stroke-width="7.9" stroke-linecap="round"/>
<line x1="951.74" y1="1423.40" x2="951.74" y2="1427.85" stroke="#000" stroke-width="7.9" stroke-linecap="round"/>
<line x1="961.75" y1="1423.40" x2="961.75" y2="1427.85" stroke="#000" stroke-width="7.9" stroke-linecap="round"/>
<line x1="1029.58" y1="1423.40" x2="1029.58" y2="1427.85" stroke="#000" stroke-width="7.9" stroke-linecap="round"/>
<line x1="303.30" y1="1435.20" x2="317.90" y2="1410.20" stroke="#000" stroke-width="7.3" stroke-linecap="round"/>
<line x1="317.90" y1="1435.20" x2="332.50" y2="1410.20" stroke="#000" stroke-width="7.3" stroke-linecap="round"/>
<text x="131.60" y="823.20" font-size="45.5" textLength="49.35" lengthAdjust="spacingAndGlyphs" >20</text>
<text x="156.28" y="917.60" font-size="45.5" textLength="24.67" lengthAdjust="spacingAndGlyphs" >0</text>
<text x="116.83" y="1012.00" font-size="45.5" textLength="64.12" lengthAdjust="spacingAndGlyphs" >-20</text>
<text x="116.83" y="1106.40" font-size="45.5" textLength="64.12" lengthAdjust="spacingAndGlyphs" >-40</text>
<text x="116.83" y="1200.80" font-size="45.5" textLength="64.12" lengthAdjust="spacingAndGlyphs" >-60</text>
<text x="116.83" y="1295.20" font-size="45.5" textLength="64.12" lengthAdjust="spacingAndGlyphs" >-80</text>
<text x="92.16" y="1389.60" font-size="45.5" textLength="88.79" lengthAdjust="spacingAndGlyphs" >-100</text>
<path d="M108.52,1383.86H117.28V1390.80H108.52ZM123.37,1383.86H131.57V1390.80H123.37Z" fill="#fff" />
<text x="179.94" y="1476.50" font-size="45.5" textLength="24.67" lengthAdjust="spacingAndGlyphs" >0</text>
<text x="337.49" y="1476.50" font-size="45.5" textLength="93.71" lengthAdjust="spacingAndGlyphs" >1E-3</text>
<path d="M339.09,1470.76H347.85V1477.70H339.09ZM353.93,1470.76H362.13V1477.70H353.93Z" fill="#fff" />
<text x="536.82" y="1476.50" font-size="45.5" textLength="86.34" lengthAdjust="spacingAndGlyphs" >0.01</text>
<path d="M600.09,1470.76H608.85V1477.70H600.09ZM614.94,1470.76H623.13V1477.70H614.94Z" fill="#fff" />
<text x="747.34" y="1476.50" font-size="45.5" textLength="61.67" lengthAdjust="spacingAndGlyphs" >0.1</text>
<path d="M785.93,1470.76H794.69V1477.70H785.93ZM800.77,1470.76H808.97V1477.70H800.77Z" fill="#fff" />
<text x="961.41" y="1476.50" font-size="45.5" textLength="24.67" lengthAdjust="spacingAndGlyphs" >1</text>
<path d="M963.01,1470.76H971.77V1477.70H963.01ZM977.85,1470.76H986.05V1477.70H977.85Z" fill="#fff" />
<text x="328.35" y="1557.20" font-size="53" textLength="499.21" lengthAdjust="spacingAndGlyphs" >[Thapsigargin] (µM)</text>
<text x="87.20" y="1344.96" font-size="53.5" textLength="547.17" lengthAdjust="spacingAndGlyphs" transform="rotate(-90 87.20 1344.96)" >% Effect (Ca-ATPase)</text>
<rect x="662.5" y="829.5" width="19" height="16.5" fill="#000" filter="url(#bl)"/>
<circle cx="671.6" cy="897.9" r="8.8" fill="#ff0000" filter="url(#bl2)"/>
<text x="732.34" y="851.40" font-size="50" textLength="294.66" lengthAdjust="spacingAndGlyphs" >pCa5.2-pCa8</text>
<text x="732.34" y="910.80" font-size="50" textLength="294.66" lengthAdjust="spacingAndGlyphs" >pCa6.2-pCa8</text>
<clipPath id="cp3"><rect x="192.0" y="784.0" width="118.6" height="636.0"/><rect x="325.2" y="784.0" width="714.8" height="636.0"/></clipPath>
<g clip-path="url(#cp3)">
<rect x="373.4" y="930.9" width="17" height="17" fill="#000"/>
<rect x="432.3" y="952.1" width="17" height="17" fill="#000"/>
<rect x="491.2" y="978.1" width="17" height="17" fill="#000"/>
<rect x="550.0" y="1086.3" width="17" height="17" fill="#000"/>
<rect x="608.9" y="1152.0" width="17" height="17" fill="#000"/>
<rect x="667.8" y="1178.5" width="17" height="17" fill="#000"/>
<rect x="726.7" y="1230.9" width="17" height="17" fill="#000"/>
<rect x="785.6" y="1309.2" width="17" height="17" fill="#000"/>
<rect x="844.4" y="1338.3" width="17" height="17" fill="#000"/>
<rect x="903.3" y="1347.2" width="17" height="17" fill="#000"/>
<rect x="962.2" y="1348.5" width="17" height="17" fill="#000"/>
<circle cx="192.5" cy="903.4" r="9.2" fill="#ff0000" />
<circle cx="381.9" cy="944.7" r="9.2" fill="#ff0000" />
<circle cx="440.8" cy="971.0" r="9.2" fill="#ff0000" />
<circle cx="499.7" cy="996.5" r="9.2" fill="#ff0000" />
<circle cx="558.5" cy="1138.5" r="9.2" fill="#ff0000" />
<circle cx="617.4" cy="1167.3" r="9.2" fill="#ff0000" />
<circle cx="676.3" cy="1197.1" r="9.2" fill="#ff0000" />
<circle cx="735.2" cy="1256.4" r="9.2" fill="#ff0000" />
<circle cx="794.1" cy="1358.9" r="9.2" fill="#ff0000" />
<circle cx="852.9" cy="1354.4" r="9.2" fill="#ff0000" />
<circle cx="911.8" cy="1378.4" r="9.2" fill="#ff0000" />
<circle cx="970.7" cy="1373.4" r="9.2" fill="#ff0000" />
<path d="M381.9,930.5V941.0M374.7,930.5H389.1M374.7,941.0H389.1" stroke="#000" stroke-width="1.7" fill="none"/>
<path d="M440.8,949.7V971.2M433.6,949.7H448.0M433.6,971.2H448.0" stroke="#000" stroke-width="1.7" fill="none"/>
<path d="M499.7,968.7V1005.0M492.5,968.7H506.9M492.5,1005.0H506.9" stroke="#000" stroke-width="1.7" fill="none"/>
<path d="M558.5,1039.9V1150.9M551.3,1039.9H565.7M551.3,1150.9H565.7" stroke="#000" stroke-width="1.7" fill="none"/>
<path d="M617.4,1092.3V1227.0M610.2,1092.3H624.6M610.2,1227.0H624.6" stroke="#000" stroke-width="1.7" fill="none"/>
<path d="M676.3,1125.6V1246.9M669.1,1125.6H683.5M669.1,1246.9H683.5" stroke="#000" stroke-width="1.7" fill="none"/>
<path d="M735.2,1195.9V1283.1M728.0,1195.9H742.4M728.0,1283.1H742.4" stroke="#000" stroke-width="1.7" fill="none"/>
<path d="M794.1,1296.3V1339.2M786.9,1296.3H801.3M786.9,1339.2H801.3" stroke="#000" stroke-width="1.7" fill="none"/>
<path d="M852.9,1339.5V1354.4M845.7,1339.5H860.1M845.7,1354.4H860.1" stroke="#000" stroke-width="1.7" fill="none"/>
<path d="M381.9,930.8V957.8M374.7,930.8H389.1M374.7,957.8H389.1" stroke="#ff0000" stroke-width="1.7" fill="none"/>
<path d="M440.8,952.8V989.4M433.6,952.8H448.0M433.6,989.4H448.0" stroke="#ff0000" stroke-width="1.7" fill="none"/>
<path d="M499.7,975.0V1020.5M492.5,975.0H506.9M492.5,1020.5H506.9" stroke="#ff0000" stroke-width="1.7" fill="none"/>
<path d="M558.5,1048.5V1229.2M551.3,1048.5H565.7M551.3,1229.2H565.7" stroke="#ff0000" stroke-width="1.7" fill="none"/>
<path d="M617.4,1102.9V1232.5M610.2,1102.9H624.6M610.2,1232.5H624.6" stroke="#ff0000" stroke-width="1.7" fill="none"/>
<path d="M676.3,1145.8V1249.0M669.1,1145.8H683.5M669.1,1249.0H683.5" stroke="#ff0000" stroke-width="1.7" fill="none"/>
<path d="M735.2,1225.8V1287.4M728.0,1225.8H742.4M728.0,1287.4H742.4" stroke="#ff0000" stroke-width="1.7" fill="none"/>
<path d="M794.1,1338.0V1380.2M786.9,1338.0H801.3M786.9,1380.2H801.3" stroke="#ff0000" stroke-width="1.7" fill="none"/>
<path d="M852.9,1339.7V1369.6M845.7,1339.7H860.1M845.7,1369.6H860.1" stroke="#ff0000" stroke-width="1.7" fill="none"/>
<path d="M911.8,1367.0V1389.8M904.6,1367.0H919.0M904.6,1389.8H919.0" stroke="#ff0000" stroke-width="1.7" fill="none"/>
<path d="M970.7,1354.4V1391.8M963.5,1354.4H977.9M963.5,1391.8H977.9" stroke="#ff0000" stroke-width="1.7" fill="none"/>
<path d="M191.0,914.0 L382.6,942.0 L441.5,963.8 L477.6,984.9 L477.6,984.9 L487.8,992.2 L498.0,1000.1 L508.3,1008.6 L518.5,1017.9 L528.7,1027.7 L538.9,1038.2 L549.2,1049.4 L559.4,1061.1 L569.6,1073.3 L579.8,1086.0 L590.0,1099.1 L600.3,1112.5 L610.5,1126.1 L620.7,1139.8 L630.9,1153.5 L641.2,1167.1 L651.4,1180.5 L661.6,1193.6 L671.8,1206.4 L682.0,1218.6 L692.3,1230.4 L702.5,1241.6 L712.7,1252.1 L722.9,1262.1 L733.2,1271.3 L743.4,1279.9 L753.6,1287.9 L763.8,1295.3 L774.1,1302.0 L784.3,1308.2 L794.5,1313.8 L804.7,1318.8 L814.9,1323.5 L825.2,1327.6 L835.4,1331.4 L845.6,1334.7 L855.8,1337.7 L866.1,1340.4 L876.3,1342.9 L886.5,1345.0 L896.7,1347.0 L906.9,1348.7 L917.2,1350.2 L927.4,1351.6 L937.6,1352.8 L947.8,1353.8 L958.1,1354.8 L968.3,1355.6 L978.5,1356.4" fill="none" stroke="#000" stroke-width="7.5" stroke-linecap="butt" stroke-linejoin="round" />
<path d="M191.0,919.0 L382.6,948.7 L441.5,974.5 L477.6,998.6 L477.6,998.6 L487.8,1006.7 L498.0,1015.5 L508.3,1024.9 L518.5,1034.9 L528.7,1045.6 L538.9,1056.8 L549.2,1068.6 L559.4,1080.9 L569.6,1093.6 L579.8,1106.7 L590.0,1120.1 L600.3,1133.8 L610.5,1147.5 L620.7,1161.3 L630.9,1175.0 L641.2,1188.5 L651.4,1201.7 L661.6,1214.7 L671.8,1227.2 L682.0,1239.2 L692.3,1250.7 L702.5,1261.6 L712.7,1271.9 L722.9,1281.6 L733.2,1290.6 L743.4,1299.1 L753.6,1306.9 L763.8,1314.1 L774.1,1320.7 L784.3,1326.8 L794.5,1332.3 L804.7,1337.4 L814.9,1342.0 L825.2,1346.2 L835.4,1349.9 L845.6,1353.3 L855.8,1356.4 L866.1,1359.1 L876.3,1361.6 L886.5,1363.9 L896.7,1365.8 L906.9,1367.6 L917.2,1369.2 L927.4,1370.7 L937.6,1371.9 L947.8,1373.1 L958.1,1374.1 L968.3,1375.0 L978.5,1375.8" fill="none" stroke="#ff0000" stroke-width="7.5" stroke-linecap="butt" stroke-linejoin="round" />
</g>
<line x1="1158.60" y1="787.65" x2="1158.60" y2="1433.65" stroke="#000" stroke-width="7.9" stroke-linecap="round"/>
<line x1="1158.60" y1="1423.10" x2="1277.10" y2="1423.10" stroke="#000" stroke-width="7.9" stroke-linecap="butt"/>
<line x1="1290.20" y1="1423.10" x2="1994.65" y2="1423.10" stroke="#000" stroke-width="7.9" stroke-linecap="butt"/>
<line x1="1993.65" y1="1423.10" x2="1994.65" y2="1423.10" stroke="#000" stroke-width="7.9" stroke-linecap="round"/>
<line x1="1158.90" y1="810.70" x2="1168.85" y2="810.70" stroke="#000" stroke-width="7.9" stroke-linecap="round"/>
<line x1="1158.90" y1="908.70" x2="1168.85" y2="908.70" stroke="#000" stroke-width="7.9" stroke-linecap="round"/>
<line x1="1158.90" y1="1006.70" x2="1168.85" y2="1006.70" stroke="#000" stroke-width="7.9" stroke-linecap="round"/>
<line x1="1158.90" y1="1104.70" x2="1168.85" y2="1104.70" stroke="#000" stroke-width="7.9" stroke-linecap="round"/>
<line x1="1158.90" y1="1202.70" x2="1168.85" y2="1202.70" stroke="#000" stroke-width="7.9" stroke-linecap="round"/>
<line x1="1158.90" y1="1300.70" x2="1168.85" y2="1300.70" stroke="#000" stroke-width="7.9" stroke-linecap="round"/>
<line x1="1158.90" y1="1398.70" x2="1168.85" y2="1398.70" stroke="#000" stroke-width="7.9" stroke-linecap="round"/>
<line x1="1158.90" y1="859.70" x2="1162.85" y2="859.70" stroke="#000" stroke-width="7.9" stroke-linecap="round"/>
<line x1="1158.90" y1="957.70" x2="1162.85" y2="957.70" stroke="#000" stroke-width="7.9" stroke-linecap="round"/>
<line x1="1158.90" y1="1055.70" x2="1162.85" y2="1055.70" stroke="#000" stroke-width="7.9" stroke-linecap="round"/>
<line x1="1158.90" y1="1153.70" x2="1162.85" y2="1153.70" stroke="#000" stroke-width="7.9" stroke-linecap="round"/>
<line x1="1158.90" y1="1251.70" x2="1162.85" y2="1251.70" stroke="#000" stroke-width="7.9" stroke-linecap="round"/>
<line x1="1158.90" y1="1349.70" x2="1162.85" y2="1349.70" stroke="#000" stroke-width="7.9" stroke-linecap="round"/>
<line x1="1307.00" y1="1423.70" x2="1307.00" y2="1433.65" stroke="#000" stroke-width="7.9" stroke-linecap="round"/>
<line x1="1478.15" y1="1423.70" x2="1478.15" y2="1433.65" stroke="#000" stroke-width="7.9" stroke-linecap="round"/>
<line x1="1649.30" y1="1423.70" x2="1649.30" y2="1433.65" stroke="#000" stroke-width="7.9" stroke-linecap="round"/>
<line x1="1820.45" y1="1423.70" x2="1820.45" y2="1433.65" stroke="#000" stroke-width="7.9" stroke-linecap="round"/>
<line x1="1991.60" y1="1423.70" x2="1991.60" y2="1433.65" stroke="#000" stroke-width="7.9" stroke-linecap="round"/>
<line x1="1217.10" y1="1423.70" x2="1217.10" y2="1427.85" stroke="#000" stroke-width="7.9" stroke-linecap="round"/>
<line x1="1290.41" y1="1423.70" x2="1290.41" y2="1427.85" stroke="#000" stroke-width="7.9" stroke-linecap="round"/>
<line x1="1299.17" y1="1423.70" x2="1299.17" y2="1427.85" stroke="#000" stroke-width="7.9" stroke-linecap="round"/>
<line x1="1358.52" y1="1423.70" x2="1358.52" y2="1427.85" stroke="#000" stroke-width="7.9" stroke-linecap="round"/>
<line x1="1388.66" y1="1423.70" x2="1388.66" y2="1427.85" stroke="#000" stroke-width="7.9" stroke-linecap="round"/>
<line x1="1410.04" y1="1423.70" x2="1410.04" y2="1427.85" stroke="#000" stroke-width="7.9" stroke-linecap="round"/>
<line x1="1426.63" y1="1423.70" x2="1426.63" y2="1427.85" stroke="#000" stroke-width="7.9" stroke-linecap="round"/>
<line x1="1440.18" y1="1423.70" x2="1440.18" y2="1427.85" stroke="#000" stroke-width="7.9" stroke-linecap="round"/>
<line x1="1451.64" y1="1423.70" x2="1451.64" y2="1427.85" stroke="#000" stroke-width="7.9" stroke-linecap="round"/>
<line x1="1461.56" y1="1423.70" x2="1461.56" y2="1427.85" stroke="#000" stroke-width="7.9" stroke-linecap="round"/>
<line x1="1470.32" y1="1423.70" x2="1470.32" y2="1427.85" stroke="#000" stroke-width="7.9" stroke-linecap="round"/>
<line x1="1529.67" y1="1423.70" x2="1529.67" y2="1427.85" stroke="#000" stroke-width="7.9" stroke-linecap="round"/>
<line x1="1559.81" y1="1423.70" x2="1559.81" y2="1427.85" stroke="#000" stroke-width="7.9" stroke-linecap="round"/>
<line x1="1581.19" y1="1423.70" x2="1581.19" y2="1427.85" stroke="#000" stroke-width="7.9" stroke-linecap="round"/>
<line x1="1597.78" y1="1423.70" x2="1597.78" y2="1427.85" stroke="#000" stroke-width="7.9" stroke-linecap="round"/>
<line x1="1611.33" y1="1423.70" x2="1611.33" y2="1427.85" stroke="#000" stroke-width="7.9" stroke-linecap="round"/>
<line x1="1622.79" y1="1423.70" x2="1622.79" y2="1427.85" stroke="#000" stroke-width="7.9" stroke-linecap="round"/>
<line x1="1632.71" y1="1423.70" x2="1632.71" y2="1427.85" stroke="#000" stroke-width="7.9" stroke-linecap="round"/>
<line x1="1641.47" y1="1423.70" x2="1641.47" y2="1427.85" stroke="#000" stroke-width="7.9" stroke-linecap="round"/>
<line x1="1700.82" y1="1423.70" x2="1700.82" y2="1427.85" stroke="#000" stroke-width="7.9" stroke-linecap="round"/>
<line x1="1730.96" y1="1423.70" x2="1730.96" y2="1427.85" stroke="#000" stroke-width="7.9" stroke-linecap="round"/>
<line x1="1752.34" y1="1423.70" x2="1752.34" y2="1427.85" stroke="#000" stroke-width="7.9" stroke-linecap="round"/>
<line x1="1768.93" y1="1423.70" x2="1768.93" y2="1427.85" stroke="#000" stroke-width="7.9" stroke-linecap="round"/>
<line x1="1782.48" y1="1423.70" x2="1782.48" y2="1427.85" stroke="#000" stroke-width="7.9" stroke-linecap="round"/>
<line x1="1793.94" y1="1423.70" x2="1793.94" y2="1427.85" stroke="#000" stroke-width="7.9" stroke-linecap="round"/>
<line x1="1803.86" y1="1423.70" x2="1803.86" y2="1427.85" stroke="#000" stroke-width="7.9" stroke-linecap="round"/>
<line x1="1812.62" y1="1423.70" x2="1812.62" y2="1427.85" stroke="#000" stroke-width="7.9" stroke-linecap="round"/>
<line x1="1871.97" y1="1423.70" x2="1871.97" y2="1427.85" stroke="#000" stroke-width="7.9" stroke-linecap="round"/>
<line x1="1902.11" y1="1423.70" x2="1902.11" y2="1427.85" stroke="#000" stroke-width="7.9" stroke-linecap="round"/>
<line x1="1923.49" y1="1423.70" x2="1923.49" y2="1427.85" stroke="#000" stroke-width="7.9" stroke-linecap="round"/>
<line x1="1940.08" y1="1423.70" x2="1940.08" y2="1427.85" stroke="#000" stroke-width="7.9" stroke-linecap="round"/>
<line x1="1953.63" y1="1423.70" x2="1953.63" y2="1427.85" stroke="#000" stroke-width="7.9" stroke-linecap="round"/>
<line x1="1965.09" y1="1423.70" x2="1965.09" y2="1427.85" stroke="#000" stroke-width="7.9" stroke-linecap="round"/>
<line x1="1975.01" y1="1423.70" x2="1975.01" y2="1427.85" stroke="#000" stroke-width="7.9" stroke-linecap="round"/>
<line x1="1983.77" y1="1423.70" x2="1983.77" y2="1427.85" stroke="#000" stroke-width="7.9" stroke-linecap="round"/>
<line x1="1269.80" y1="1435.50" x2="1284.40" y2="1410.50" stroke="#000" stroke-width="7.3" stroke-linecap="round"/>
<line x1="1282.90" y1="1435.50" x2="1297.50" y2="1410.50" stroke="#000" stroke-width="7.3" stroke-linecap="round"/>
<text x="1095.75" y="824.10" font-size="45.5" textLength="49.35" lengthAdjust="spacingAndGlyphs" >20</text>
<text x="1120.43" y="922.10" font-size="45.5" textLength="24.67" lengthAdjust="spacingAndGlyphs" >0</text>
<text x="1080.98" y="1020.10" font-size="45.5" textLength="64.12" lengthAdjust="spacingAndGlyphs" >-20</text>
<text x="1080.98" y="1118.10" font-size="45.5" textLength="64.12" lengthAdjust="spacingAndGlyphs" >-40</text>
<text x="1080.98" y="1216.10" font-size="45.5" textLength="64.12" lengthAdjust="spacingAndGlyphs" >-60</text>
<text x="1080.98" y="1314.10" font-size="45.5" textLength="64.12" lengthAdjust="spacingAndGlyphs" >-80</text>
<text x="1056.31" y="1412.10" font-size="45.5" textLength="88.79" lengthAdjust="spacingAndGlyphs" >-100</text>
<path d="M1072.67,1406.36H1081.43V1413.30H1072.67ZM1087.52,1406.36H1095.72V1413.30H1087.52Z" fill="#fff" />
<text x="1146.29" y="1476.60" font-size="45.5" textLength="24.67" lengthAdjust="spacingAndGlyphs" >0</text>
<text x="1265.72" y="1476.60" font-size="45.5" textLength="86.34" lengthAdjust="spacingAndGlyphs" >0.01</text>
<path d="M1328.99,1470.86H1337.75V1477.80H1328.99ZM1343.84,1470.86H1352.03V1477.80H1343.84Z" fill="#fff" />
<text x="1448.74" y="1476.60" font-size="45.5" textLength="61.67" lengthAdjust="spacingAndGlyphs" >0.1</text>
<path d="M1487.33,1470.86H1496.09V1477.80H1487.33ZM1502.17,1470.86H1510.37V1477.80H1502.17Z" fill="#fff" />
<text x="1638.71" y="1476.60" font-size="45.5" textLength="24.67" lengthAdjust="spacingAndGlyphs" >1</text>
<path d="M1640.31,1470.86H1649.07V1477.80H1640.31ZM1655.15,1470.86H1663.35V1477.80H1655.15Z" fill="#fff" />
<text x="1796.84" y="1476.60" font-size="45.5" textLength="49.35" lengthAdjust="spacingAndGlyphs" >10</text>
<path d="M1798.43,1470.86H1807.19V1477.80H1798.43ZM1813.28,1470.86H1821.47V1477.80H1813.28Z" fill="#fff" />
<text x="1955.02" y="1476.60" font-size="45.5" textLength="74.02" lengthAdjust="spacingAndGlyphs" >100</text>
<path d="M1956.62,1470.86H1965.38V1477.80H1956.62ZM1971.47,1470.86H1979.66V1477.80H1971.47Z" fill="#fff" />
<text x="1382.18" y="1554.30" font-size="52.5" textLength="440.68" lengthAdjust="spacingAndGlyphs" >[Ro 41-0960] (µM)</text>
<path d="M1517.06,1547.84H1527.31V1555.50H1517.06ZM1534.59,1547.84H1544.16V1555.50H1534.59Z" fill="#fff" />
<clipPath id="cp4"><rect x="1158.6" y="785.5" width="118.5" height="636.0"/><rect x="1290.2" y="785.5" width="709.8" height="636.0"/></clipPath>
<g clip-path="url(#cp4)">
<rect x="1416.5" y="908.0" width="17" height="17" fill="#000"/>
<rect x="1468.0" y="917.3" width="17" height="17" fill="#000"/>
<rect x="1519.6" y="917.9" width="17" height="17" fill="#000"/>
<rect x="1571.2" y="924.5" width="17" height="17" fill="#000"/>
<rect x="1622.7" y="926.3" width="17" height="17" fill="#000"/>
<rect x="1674.2" y="939.4" width="17" height="17" fill="#000"/>
<rect x="1725.8" y="945.5" width="17" height="17" fill="#000"/>
<rect x="1777.3" y="965.8" width="17" height="17" fill="#000"/>
<rect x="1828.9" y="998.9" width="17" height="17" fill="#000"/>
<rect x="1880.5" y="1062.0" width="17" height="17" fill="#000"/>
<rect x="1932.0" y="1152.5" width="17" height="17" fill="#000"/>
<circle cx="1158.8" cy="908.6" r="9.2" fill="#ff0000" />
<circle cx="1425.0" cy="911.6" r="9.2" fill="#ff0000" />
<circle cx="1476.5" cy="921.5" r="9.2" fill="#ff0000" />
<circle cx="1528.1" cy="923.7" r="9.2" fill="#ff0000" />
<circle cx="1579.7" cy="932.1" r="9.2" fill="#ff0000" />
<circle cx="1631.2" cy="931.2" r="9.2" fill="#ff0000" />
<circle cx="1682.8" cy="924.8" r="9.2" fill="#ff0000" />
<circle cx="1734.3" cy="876.5" r="9.2" fill="#ff0000" />
<circle cx="1785.8" cy="831.5" r="9.2" fill="#ff0000" />
<circle cx="1889.0" cy="849.5" r="9.2" fill="#ff0000" />
<circle cx="1940.5" cy="998.7" r="9.2" fill="#ff0000" />
<path d="M1425.0,899.6V928.8M1417.8,899.6H1432.2M1417.8,928.8H1432.2" stroke="#000" stroke-width="1.7" fill="none"/>
<path d="M1579.7,920.7V945.3M1572.5,920.7H1586.9M1572.5,945.3H1586.9" stroke="#000" stroke-width="1.7" fill="none"/>
<path d="M1734.3,944.1V963.9M1727.1,944.1H1741.5M1727.1,963.9H1741.5" stroke="#000" stroke-width="1.7" fill="none"/>
<path d="M1785.8,960.4V987.5M1778.6,960.4H1793.0M1778.6,987.5H1793.0" stroke="#000" stroke-width="1.7" fill="none"/>
<path d="M1837.4,991.6V1024.3M1830.2,991.6H1844.6M1830.2,1024.3H1844.6" stroke="#000" stroke-width="1.7" fill="none"/>
<path d="M1889.0,1055.1V1087.4M1881.8,1055.1H1896.2M1881.8,1087.4H1896.2" stroke="#000" stroke-width="1.7" fill="none"/>
<path d="M1940.5,1143.2V1180.0M1933.3,1143.2H1947.7M1933.3,1180.0H1947.7" stroke="#000" stroke-width="1.7" fill="none"/>
<path d="M1476.5,902.9V932.5M1469.3,902.9H1483.8M1469.3,932.5H1483.8" stroke="#ff0000" stroke-width="1.7" fill="none"/>
<path d="M1528.1,912.0V933.6M1520.9,912.0H1535.3M1520.9,933.6H1535.3" stroke="#ff0000" stroke-width="1.7" fill="none"/>
<path d="M1579.7,910.0V954.1M1572.5,910.0H1586.9M1572.5,954.1H1586.9" stroke="#ff0000" stroke-width="1.7" fill="none"/>
<path d="M1631.2,916.0V946.0M1624.0,916.0H1638.4M1624.0,946.0H1638.4" stroke="#ff0000" stroke-width="1.7" fill="none"/>
<path d="M1682.8,905.4V944.2M1675.5,905.4H1690.0M1675.5,944.2H1690.0" stroke="#ff0000" stroke-width="1.7" fill="none"/>
<path d="M1734.3,857.8V895.7M1727.1,857.8H1741.5M1727.1,895.7H1741.5" stroke="#ff0000" stroke-width="1.7" fill="none"/>
<path d="M1785.8,818.7V843.1M1778.6,818.7H1793.0M1778.6,843.1H1793.0" stroke="#ff0000" stroke-width="1.7" fill="none"/>
<path d="M1837.4,666.3V786.3M1830.2,666.3H1844.6M1830.2,786.3H1844.6" stroke="#ff0000" stroke-width="1.7" fill="none"/>
<path d="M1889.0,817.6V881.5M1881.8,817.6H1896.2M1881.8,881.5H1896.2" stroke="#ff0000" stroke-width="1.7" fill="none"/>
<path d="M1940.5,945.4V1051.7M1933.3,945.4H1947.7M1933.3,1051.7H1947.7" stroke="#ff0000" stroke-width="1.7" fill="none"/>
<path d="M1157.0,910.4 L1166.4,910.5 L1175.8,910.5 L1185.1,910.5 L1194.5,910.6 L1203.9,910.6 L1213.3,910.6 L1222.6,910.7 L1232.0,910.7 L1241.4,910.8 L1250.8,910.8 L1260.1,910.9 L1269.5,911.0 L1278.9,911.0 L1288.3,911.1 L1297.6,911.2 L1307.0,911.3 L1316.4,911.4 L1325.8,911.5 L1335.1,911.6 L1344.5,911.7 L1353.9,911.8 L1363.3,912.0 L1372.6,912.1 L1382.0,912.3 L1391.4,912.5 L1400.8,912.7 L1410.1,912.9 L1419.5,913.1 L1428.9,913.4 L1438.3,913.7 L1447.6,913.9 L1457.0,914.3 L1466.4,914.6 L1475.8,915.0 L1485.1,915.4 L1494.5,915.8 L1503.9,916.3 L1513.3,916.8 L1522.6,917.4 L1532.0,918.0 L1541.4,918.6 L1550.8,919.3 L1560.1,920.1 L1569.5,920.9 L1578.9,921.8 L1588.3,922.8 L1597.6,923.9 L1607.0,925.0 L1616.4,926.2 L1625.8,927.6 L1635.1,929.0 L1644.5,930.6 L1653.9,932.3 L1663.3,934.1 L1672.6,936.1 L1682.0,938.3 L1691.4,940.6 L1700.8,943.1 L1710.1,945.9 L1719.5,948.8 L1728.9,952.0 L1738.3,955.5 L1747.6,959.2 L1757.0,963.3 L1766.4,967.7 L1775.8,972.4 L1785.1,977.6 L1794.5,983.1 L1803.9,989.1 L1813.3,995.6 L1822.6,1002.7 L1832.0,1010.2 L1841.4,1018.5 L1850.8,1027.3 L1860.1,1036.9 L1869.5,1047.3 L1878.9,1058.4 L1888.3,1070.5 L1897.6,1083.5 L1907.0,1097.6 L1916.4,1112.8 L1925.8,1129.2 L1935.1,1146.8 L1944.5,1165.8 L1953.9,1186.3 L1963.3,1208.4 L1972.6,1232.2 L1982.0,1257.7 L1991.4,1285.2" fill="none" stroke="#000" stroke-width="7.5" stroke-linecap="round" stroke-linejoin="round" />
<path d="M1157.0,908.4 L1162.2,908.4 L1167.5,908.4 L1172.7,908.4 L1178.0,908.4 L1183.2,908.4 L1188.4,908.4 L1193.7,908.4 L1198.9,908.4 L1204.2,908.4 L1209.4,908.4 L1214.6,908.4 L1219.9,908.4 L1225.1,908.4 L1230.3,908.4 L1235.6,908.4 L1240.8,908.4 L1246.1,908.4 L1251.3,908.4 L1256.5,908.4 L1261.8,908.4 L1267.0,908.4 L1272.3,908.4 L1277.5,908.4 L1282.7,908.4 L1288.0,908.4 L1293.2,908.4 L1298.5,908.4 L1303.7,908.4 L1308.9,908.4 L1314.2,908.4 L1319.4,908.4 L1324.6,908.4 L1329.9,908.4 L1335.1,908.4 L1340.4,908.4 L1345.6,908.4 L1350.8,908.4 L1356.1,908.4 L1361.3,908.4 L1366.6,908.4 L1371.8,908.4 L1377.0,908.4 L1382.3,908.4 L1387.5,908.4 L1392.8,908.4 L1398.0,908.4 L1403.2,908.4 L1408.5,908.4 L1413.7,908.4 L1418.9,908.4 L1424.2,908.4 L1429.4,908.4 L1434.7,908.4 L1439.9,908.4 L1445.1,908.4 L1450.4,908.4 L1455.6,908.4 L1460.9,908.4 L1466.1,908.4 L1471.3,908.4 L1476.6,908.4 L1481.8,908.4 L1487.1,908.4 L1492.3,908.4 L1497.5,908.4 L1502.8,908.4 L1508.0,908.4 L1513.3,908.4 L1518.5,908.4 L1523.7,908.4 L1529.0,908.4 L1534.2,908.4 L1539.4,908.4 L1544.7,908.4 L1549.9,908.4 L1555.2,908.4 L1560.4,908.4 L1565.6,908.4 L1570.9,908.4 L1576.1,908.4 L1581.4,908.4 L1586.6,908.4 L1591.8,908.4 L1597.1,908.4 L1602.3,908.4 L1607.6,908.4 L1612.8,908.4 L1618.0,908.4 L1623.3,908.4 L1628.5,908.4 L1633.7,908.3 L1639.0,908.3 L1644.2,908.3 L1649.5,908.3 L1654.7,908.2 L1659.9,908.1 L1665.2,908.0 L1670.4,907.8 L1675.7,907.5 L1680.9,907.2 L1686.1,906.7 L1691.4,906.0 L1696.6,905.0 L1701.9,903.7 L1707.1,901.8 L1712.3,899.3 L1717.6,896.0 L1722.8,891.7 L1728.1,886.3 L1733.3,879.9 L1738.5,872.6 L1743.8,864.7 L1749.0,856.7 L1754.2,849.0 L1759.5,842.0 L1764.7,836.1 L1770.0,831.2 L1775.2,827.4 L1780.4,824.5 L1785.7,822.3 L1790.9,820.7 L1796.2,819.5 L1801.4,818.7 L1806.6,818.1 L1811.9,817.6 L1817.1,817.3 L1822.4,817.1 L1827.6,817.0 L1832.8,816.9 L1838.1,816.8 L1843.3,816.7 L1848.5,816.7 L1853.8,816.7 L1859.0,816.6 L1864.3,816.6 L1869.5,816.6 L1874.7,816.6 L1880.0,816.6 L1885.2,816.6 L1890.5,816.6 L1895.7,816.6 L1900.9,816.6 L1906.2,816.6 L1911.4,816.6 L1916.7,816.6 L1921.9,816.6 L1927.1,816.6 L1932.4,816.6 L1937.6,816.6 L1942.8,816.6 L1948.1,816.6 L1953.3,816.6 L1958.6,816.6 L1963.8,816.6 L1969.0,816.6 L1974.3,816.6 L1979.5,816.6 L1984.8,816.6 L1990.0,816.6" fill="none" stroke="#ff0000" stroke-width="8.2" stroke-linecap="round" stroke-linejoin="round" />
</g>
<line x1="196.05" y1="1549.25" x2="196.05" y2="2196.75" stroke="#000" stroke-width="7.9" stroke-linecap="round"/>
<line x1="196.05" y1="2184.70" x2="314.90" y2="2184.70" stroke="#000" stroke-width="7.8" stroke-linecap="butt"/>
<line x1="329.10" y1="2184.70" x2="1031.90" y2="2184.70" stroke="#000" stroke-width="7.8" stroke-linecap="butt"/>
<line x1="1030.90" y1="2184.70" x2="1031.90" y2="2184.70" stroke="#000" stroke-width="7.8" stroke-linecap="round"/>
<line x1="196.35" y1="1619.80" x2="207.15" y2="1619.80" stroke="#000" stroke-width="7.9" stroke-linecap="round"/>
<line x1="196.35" y1="1695.20" x2="207.15" y2="1695.20" stroke="#000" stroke-width="7.9" stroke-linecap="round"/>
<line x1="196.35" y1="1770.60" x2="207.15" y2="1770.60" stroke="#000" stroke-width="7.9" stroke-linecap="round"/>
<line x1="196.35" y1="1846.00" x2="207.15" y2="1846.00" stroke="#000" stroke-width="7.9" stroke-linecap="round"/>
<line x1="196.35" y1="1921.40" x2="207.15" y2="1921.40" stroke="#000" stroke-width="7.9" stroke-linecap="round"/>
<line x1="196.35" y1="1996.80" x2="207.15" y2="1996.80" stroke="#000" stroke-width="7.9" stroke-linecap="round"/>
<line x1="196.35" y1="2072.20" x2="207.15" y2="2072.20" stroke="#000" stroke-width="7.9" stroke-linecap="round"/>
<line x1="196.35" y1="2147.60" x2="207.15" y2="2147.60" stroke="#000" stroke-width="7.9" stroke-linecap="round"/>
<line x1="196.35" y1="1582.10" x2="202.05" y2="1582.10" stroke="#000" stroke-width="7.9" stroke-linecap="round"/>
<line x1="196.35" y1="1657.50" x2="202.05" y2="1657.50" stroke="#000" stroke-width="7.9" stroke-linecap="round"/>
<line x1="196.35" y1="1732.90" x2="202.05" y2="1732.90" stroke="#000" stroke-width="7.9" stroke-linecap="round"/>
<line x1="196.35" y1="1808.30" x2="202.05" y2="1808.30" stroke="#000" stroke-width="7.9" stroke-linecap="round"/>
<line x1="196.35" y1="1883.70" x2="202.05" y2="1883.70" stroke="#000" stroke-width="7.9" stroke-linecap="round"/>
<line x1="196.35" y1="1959.10" x2="202.05" y2="1959.10" stroke="#000" stroke-width="7.9" stroke-linecap="round"/>
<line x1="196.35" y1="2034.50" x2="202.05" y2="2034.50" stroke="#000" stroke-width="7.9" stroke-linecap="round"/>
<line x1="196.35" y1="2109.90" x2="202.05" y2="2109.90" stroke="#000" stroke-width="7.9" stroke-linecap="round"/>
<line x1="387.70" y1="2185.30" x2="387.70" y2="2196.75" stroke="#000" stroke-width="7.9" stroke-linecap="round"/>
<line x1="583.10" y1="2185.30" x2="583.10" y2="2196.75" stroke="#000" stroke-width="7.9" stroke-linecap="round"/>
<line x1="778.50" y1="2185.30" x2="778.50" y2="2196.75" stroke="#000" stroke-width="7.9" stroke-linecap="round"/>
<line x1="973.90" y1="2185.30" x2="973.90" y2="2196.75" stroke="#000" stroke-width="7.9" stroke-linecap="round"/>
<line x1="255.80" y1="2185.30" x2="255.80" y2="2190.65" stroke="#000" stroke-width="7.9" stroke-linecap="round"/>
<line x1="328.88" y1="2185.30" x2="328.88" y2="2190.65" stroke="#000" stroke-width="7.9" stroke-linecap="round"/>
<line x1="344.35" y1="2185.30" x2="344.35" y2="2190.65" stroke="#000" stroke-width="7.9" stroke-linecap="round"/>
<line x1="357.43" y1="2185.30" x2="357.43" y2="2190.65" stroke="#000" stroke-width="7.9" stroke-linecap="round"/>
<line x1="368.76" y1="2185.30" x2="368.76" y2="2190.65" stroke="#000" stroke-width="7.9" stroke-linecap="round"/>
<line x1="378.76" y1="2185.30" x2="378.76" y2="2190.65" stroke="#000" stroke-width="7.9" stroke-linecap="round"/>
<line x1="446.52" y1="2185.30" x2="446.52" y2="2190.65" stroke="#000" stroke-width="7.9" stroke-linecap="round"/>
<line x1="480.93" y1="2185.30" x2="480.93" y2="2190.65" stroke="#000" stroke-width="7.9" stroke-linecap="round"/>
<line x1="505.34" y1="2185.30" x2="505.34" y2="2190.65" stroke="#000" stroke-width="7.9" stroke-linecap="round"/>
<line x1="524.28" y1="2185.30" x2="524.28" y2="2190.65" stroke="#000" stroke-width="7.9" stroke-linecap="round"/>
<line x1="539.75" y1="2185.30" x2="539.75" y2="2190.65" stroke="#000" stroke-width="7.9" stroke-linecap="round"/>
<line x1="552.83" y1="2185.30" x2="552.83" y2="2190.65" stroke="#000" stroke-width="7.9" stroke-linecap="round"/>
<line x1="564.16" y1="2185.30" x2="564.16" y2="2190.65" stroke="#000" stroke-width="7.9" stroke-linecap="round"/>
<line x1="574.16" y1="2185.30" x2="574.16" y2="2190.65" stroke="#000" stroke-width="7.9" stroke-linecap="round"/>
<line x1="641.92" y1="2185.30" x2="641.92" y2="2190.65" stroke="#000" stroke-width="7.9" stroke-linecap="round"/>
<line x1="676.33" y1="2185.30" x2="676.33" y2="2190.65" stroke="#000" stroke-width="7.9" stroke-linecap="round"/>
<line x1="700.74" y1="2185.30" x2="700.74" y2="2190.65" stroke="#000" stroke-width="7.9" stroke-linecap="round"/>
<line x1="719.68" y1="2185.30" x2="719.68" y2="2190.65" stroke="#000" stroke-width="7.9" stroke-linecap="round"/>
<line x1="735.15" y1="2185.30" x2="735.15" y2="2190.65" stroke="#000" stroke-width="7.9" stroke-linecap="round"/>
<line x1="748.23" y1="2185.30" x2="748.23" y2="2190.65" stroke="#000" stroke-width="7.9" stroke-linecap="round"/>
<line x1="759.56" y1="2185.30" x2="759.56" y2="2190.65" stroke="#000" stroke-width="7.9" stroke-linecap="round"/>
<line x1="769.56" y1="2185.30" x2="769.56" y2="2190.65" stroke="#000" stroke-width="7.9" stroke-linecap="round"/>
<line x1="837.32" y1="2185.30" x2="837.32" y2="2190.65" stroke="#000" stroke-width="7.9" stroke-linecap="round"/>
<line x1="871.73" y1="2185.30" x2="871.73" y2="2190.65" stroke="#000" stroke-width="7.9" stroke-linecap="round"/>
<line x1="896.14" y1="2185.30" x2="896.14" y2="2190.65" stroke="#000" stroke-width="7.9" stroke-linecap="round"/>
<line x1="915.08" y1="2185.30" x2="915.08" y2="2190.65" stroke="#000" stroke-width="7.9" stroke-linecap="round"/>
<line x1="930.55" y1="2185.30" x2="930.55" y2="2190.65" stroke="#000" stroke-width="7.9" stroke-linecap="round"/>
<line x1="943.63" y1="2185.30" x2="943.63" y2="2190.65" stroke="#000" stroke-width="7.9" stroke-linecap="round"/>
<line x1="954.96" y1="2185.30" x2="954.96" y2="2190.65" stroke="#000" stroke-width="7.9" stroke-linecap="round"/>
<line x1="964.96" y1="2185.30" x2="964.96" y2="2190.65" stroke="#000" stroke-width="7.9" stroke-linecap="round"/>
<line x1="1032.72" y1="2185.30" x2="1032.72" y2="2190.65" stroke="#000" stroke-width="7.9" stroke-linecap="round"/>
<line x1="307.60" y1="2197.10" x2="322.20" y2="2172.10" stroke="#000" stroke-width="7.3" stroke-linecap="round"/>
<line x1="321.80" y1="2197.10" x2="336.40" y2="2172.10" stroke="#000" stroke-width="7.3" stroke-linecap="round"/>
<text x="135.70" y="1633.10" font-size="45.5" textLength="49.35" lengthAdjust="spacingAndGlyphs" >40</text>
<text x="135.70" y="1708.50" font-size="45.5" textLength="49.35" lengthAdjust="spacingAndGlyphs" >20</text>
<text x="160.38" y="1783.90" font-size="45.5" textLength="24.67" lengthAdjust="spacingAndGlyphs" >0</text>
<text x="120.93" y="1859.30" font-size="45.5" textLength="64.12" lengthAdjust="spacingAndGlyphs" >-20</text>
<text x="120.93" y="1934.70" font-size="45.5" textLength="64.12" lengthAdjust="spacingAndGlyphs" >-40</text>
<text x="120.93" y="2010.10" font-size="45.5" textLength="64.12" lengthAdjust="spacingAndGlyphs" >-60</text>
<text x="120.93" y="2085.50" font-size="45.5" textLength="64.12" lengthAdjust="spacingAndGlyphs" >-80</text>
<text x="96.26" y="2160.90" font-size="45.5" textLength="88.79" lengthAdjust="spacingAndGlyphs" >-100</text>
<path d="M112.62,2155.16H121.38V2162.10H112.62ZM127.47,2155.16H135.67V2162.10H127.47Z" fill="#fff" />
<text x="184.44" y="2237.80" font-size="45.5" textLength="24.67" lengthAdjust="spacingAndGlyphs" >0</text>
<text x="341.64" y="2237.80" font-size="45.5" textLength="93.71" lengthAdjust="spacingAndGlyphs" >1E-3</text>
<path d="M343.24,2232.06H352.00V2239.00H343.24ZM358.08,2232.06H366.28V2239.00H358.08Z" fill="#fff" />
<text x="541.02" y="2237.80" font-size="45.5" textLength="86.34" lengthAdjust="spacingAndGlyphs" >0.01</text>
<path d="M604.29,2232.06H613.05V2239.00H604.29ZM619.14,2232.06H627.33V2239.00H619.14Z" fill="#fff" />
<text x="751.34" y="2237.80" font-size="45.5" textLength="61.67" lengthAdjust="spacingAndGlyphs" >0.1</text>
<path d="M789.93,2232.06H798.69V2239.00H789.93ZM804.77,2232.06H812.97V2239.00H804.77Z" fill="#fff" />
<text x="965.41" y="2237.80" font-size="45.5" textLength="24.67" lengthAdjust="spacingAndGlyphs" >1</text>
<path d="M967.01,2232.06H975.77V2239.00H967.01ZM981.85,2232.06H990.05V2239.00H981.85Z" fill="#fff" />
<text x="327.85" y="2300.80" font-size="53" textLength="499.21" lengthAdjust="spacingAndGlyphs" >[Thapsigargin] (µM)</text>
<text x="87.50" y="2115.94" font-size="53.5" textLength="523.08" lengthAdjust="spacingAndGlyphs" transform="rotate(-90 87.50 2115.94)" >% Effect (Ca-uptake)</text>
<rect x="651" y="1620.5" width="19" height="16.5" fill="#000" filter="url(#bl)"/>
<circle cx="660.9" cy="1689.2" r="8.8" fill="#ff0000" filter="url(#bl2)"/>
<text x="724.94" y="1642.30" font-size="50" textLength="294.05" lengthAdjust="spacingAndGlyphs" >pCa5.2-pCa8</text>
<text x="724.94" y="1700.30" font-size="50" textLength="294.05" lengthAdjust="spacingAndGlyphs" >pCa6.2-pCa8</text>
<clipPath id="cp5"><rect x="196.1" y="1546.0" width="118.8" height="636.0"/><rect x="329.1" y="1546.0" width="710.9" height="636.0"/></clipPath>
<g clip-path="url(#cp5)">
<rect x="495.1" y="1788.2" width="17" height="17" fill="#000"/>
<rect x="553.9" y="1813.5" width="17" height="17" fill="#000"/>
<rect x="612.7" y="1855.3" width="17" height="17" fill="#000"/>
<rect x="671.6" y="1971.1" width="17" height="17" fill="#000"/>
<rect x="730.4" y="2115.2" width="17" height="17" fill="#000"/>
<rect x="789.2" y="2152.9" width="17" height="17" fill="#000"/>
<rect x="848.0" y="2154.4" width="17" height="17" fill="#000"/>
<rect x="906.9" y="2152.9" width="17" height="17" fill="#000"/>
<rect x="965.7" y="2150.9" width="17" height="17" fill="#000"/>
<path d="M195.0,1770.4 L202.9,1770.4 L210.8,1770.4 L218.7,1770.4 L226.6,1770.4 L234.5,1770.4 L242.4,1770.4 L250.3,1770.4 L258.2,1770.4 L266.1,1770.4 L274.0,1770.4 L281.9,1770.4 L289.8,1770.4 L297.7,1770.5 L305.6,1770.5 L313.5,1770.5 L321.4,1770.5 L329.3,1770.5 L337.2,1770.6 L345.1,1770.6 L353.0,1770.6 L360.9,1770.7 L368.8,1770.7 L376.7,1770.8 L384.6,1770.9 L392.5,1771.0 L400.4,1771.1 L408.3,1771.2 L416.2,1771.4 L424.1,1771.6 L432.0,1771.9 L439.9,1772.2 L447.8,1772.6 L455.7,1773.0 L463.6,1773.5 L471.5,1774.2 L479.4,1775.0 L487.3,1775.9 L495.2,1777.0 L503.1,1778.3 L511.0,1779.9 L518.9,1781.9 L526.8,1784.2 L534.7,1786.9 L542.6,1790.1 L550.5,1794.0 L558.4,1798.5 L566.3,1803.8 L574.2,1810.0 L582.1,1817.2 L589.9,1825.5 L597.8,1835.0 L605.7,1845.7 L613.6,1857.8 L621.5,1871.2 L629.4,1885.8 L637.3,1901.7 L645.2,1918.5 L653.1,1936.2 L661.0,1954.4 L668.9,1972.9 L676.8,1991.3 L684.7,2009.3 L692.6,2026.7 L700.5,2043.2 L708.4,2058.5 L716.3,2072.7 L724.2,2085.6 L732.1,2097.2 L740.0,2107.5 L747.9,2116.6 L755.8,2124.5 L763.7,2131.4 L771.6,2137.3 L779.5,2142.4 L787.4,2146.7 L795.3,2150.4 L803.2,2153.5 L811.1,2156.2 L819.0,2158.4 L826.9,2160.3 L834.8,2161.8 L842.7,2163.1 L850.6,2164.2 L858.5,2165.2 L866.4,2165.9 L874.3,2166.6 L882.2,2167.1 L890.1,2167.6 L898.0,2167.9 L905.9,2168.2 L913.8,2168.5 L921.7,2168.7 L929.6,2168.9 L937.5,2169.1 L945.4,2169.2 L953.3,2169.3 L961.2,2169.4 L969.1,2169.4 L977.0,2169.5" fill="none" stroke="#000" stroke-width="7.5" stroke-linecap="round" stroke-linejoin="round" />
<circle cx="196.3" cy="1770.6" r="9.2" fill="#ff0000" />
<circle cx="385.9" cy="1784.8" r="9.399999999999999" fill="#ff0000" />
<circle cx="444.7" cy="1788.4" r="9.399999999999999" fill="#ff0000" />
<circle cx="503.6" cy="1797.2" r="9.399999999999999" fill="#ff0000" />
<circle cx="562.4" cy="1822.6" r="9.399999999999999" fill="#ff0000" />
<circle cx="621.2" cy="1859.6" r="9.399999999999999" fill="#ff0000" />
<circle cx="680.1" cy="1936.8" r="9.399999999999999" fill="#ff0000" />
<circle cx="738.9" cy="2064.9" r="9.399999999999999" fill="#ff0000" />
<circle cx="797.7" cy="2114.3" r="9.399999999999999" fill="#ff0000" />
<circle cx="856.5" cy="2127.1" r="9.399999999999999" fill="#ff0000" />
<circle cx="915.4" cy="2134.9" r="9.399999999999999" fill="#ff0000" />
<circle cx="974.2" cy="2137.7" r="9.399999999999999" fill="#ff0000" />
<path d="M195.0,1771.0 L202.9,1771.0 L210.8,1771.0 L218.7,1771.0 L226.6,1771.0 L234.5,1771.0 L242.4,1771.1 L250.3,1771.1 L258.2,1771.1 L266.1,1771.1 L274.0,1771.2 L281.9,1771.2 L289.8,1771.3 L297.7,1771.3 L305.6,1771.4 L313.5,1771.5 L321.4,1771.5 L329.3,1771.6 L337.2,1771.7 L345.1,1771.9 L353.0,1772.0 L360.9,1772.2 L368.8,1772.4 L376.7,1772.6 L384.6,1772.8 L392.5,1773.1 L400.4,1773.4 L408.3,1773.8 L416.2,1774.2 L424.1,1774.7 L432.0,1775.3 L439.9,1776.0 L447.8,1776.7 L455.7,1777.6 L463.6,1778.5 L471.5,1779.6 L479.4,1780.9 L487.3,1782.4 L495.2,1784.0 L503.1,1785.9 L511.0,1788.1 L518.9,1790.5 L526.8,1793.3 L534.7,1796.4 L542.6,1800.0 L550.5,1804.0 L558.4,1808.5 L566.3,1813.5 L574.2,1819.1 L582.1,1825.4 L589.9,1832.3 L597.8,1839.9 L605.7,1848.3 L613.6,1857.4 L621.5,1867.2 L629.4,1877.7 L637.3,1888.9 L645.2,1900.8 L653.1,1913.2 L661.0,1926.0 L668.9,1939.2 L676.8,1952.5 L684.7,1966.0 L692.6,1979.3 L700.5,1992.5 L708.4,2005.3 L716.3,2017.7 L724.2,2029.5 L732.1,2040.6 L740.0,2051.1 L747.9,2060.8 L755.8,2069.8 L763.7,2078.0 L771.6,2085.5 L779.5,2092.2 L787.4,2098.3 L795.3,2103.7 L803.2,2108.6 L811.1,2112.9 L819.0,2116.7 L826.9,2120.0 L834.8,2123.0 L842.7,2125.6 L850.6,2127.8 L858.5,2129.8 L866.4,2131.5 L874.3,2133.0 L882.2,2134.3 L890.1,2135.5 L898.0,2136.5 L905.9,2137.3 L913.8,2138.1 L921.7,2138.7 L929.6,2139.3 L937.5,2139.7 L945.4,2140.2 L953.3,2140.5 L961.2,2140.8 L969.1,2141.1 L977.0,2141.3" fill="none" stroke="#ff0000" stroke-width="8.7" stroke-linecap="round" stroke-linejoin="round" />
<path d="M738.9,2042.9V2087.1M731.7,2042.9H746.1M731.7,2087.1H746.1" stroke="#ff0000" stroke-width="1.7" fill="none"/>
<path d="M797.7,2097.1V2132.0M790.5,2097.1H804.9M790.5,2132.0H804.9" stroke="#ff0000" stroke-width="1.7" fill="none"/>
<path d="M856.5,2117.7V2137.1M849.3,2117.7H863.7M849.3,2137.1H863.7" stroke="#ff0000" stroke-width="1.7" fill="none"/>
<path d="M385.9,1774.7V1778.4M378.9,1774.7H392.9M378.9,1778.4H392.9" stroke="#000" stroke-width="1.1" fill="none"/>
<path d="M503.6,1794.5V1798.1M496.6,1794.5H510.6M496.6,1798.1H510.6" stroke="#000" stroke-width="1.1" fill="none"/>
<path d="M621.2,1858.5V1869.0M614.2,1858.5H628.2M614.2,1869.0H628.2" stroke="#000" stroke-width="1.1" fill="none"/>
<path d="M385.9,1769V1775M444.7,1776V1789M437.7,1782.1H451.7M621.2,1855V1859" stroke="#000" stroke-width="1.1" fill="none"/>
</g>
<line x1="1166.30" y1="1548.95" x2="1166.30" y2="2194.55" stroke="#000" stroke-width="7.9" stroke-linecap="round"/>
<line x1="1166.30" y1="2184.40" x2="1285.10" y2="2184.40" stroke="#000" stroke-width="7.9" stroke-linecap="butt"/>
<line x1="1298.20" y1="2184.40" x2="2002.35" y2="2184.40" stroke="#000" stroke-width="7.9" stroke-linecap="butt"/>
<line x1="2001.35" y1="2184.40" x2="2002.35" y2="2184.40" stroke="#000" stroke-width="7.9" stroke-linecap="round"/>
<line x1="1166.60" y1="1621.30" x2="1176.65" y2="1621.30" stroke="#000" stroke-width="7.9" stroke-linecap="round"/>
<line x1="1166.60" y1="1698.95" x2="1176.65" y2="1698.95" stroke="#000" stroke-width="7.9" stroke-linecap="round"/>
<line x1="1166.60" y1="1776.60" x2="1176.65" y2="1776.60" stroke="#000" stroke-width="7.9" stroke-linecap="round"/>
<line x1="1166.60" y1="1854.25" x2="1176.65" y2="1854.25" stroke="#000" stroke-width="7.9" stroke-linecap="round"/>
<line x1="1166.60" y1="1931.90" x2="1176.65" y2="1931.90" stroke="#000" stroke-width="7.9" stroke-linecap="round"/>
<line x1="1166.60" y1="2009.55" x2="1176.65" y2="2009.55" stroke="#000" stroke-width="7.9" stroke-linecap="round"/>
<line x1="1166.60" y1="2087.20" x2="1176.65" y2="2087.20" stroke="#000" stroke-width="7.9" stroke-linecap="round"/>
<line x1="1166.60" y1="2164.85" x2="1176.65" y2="2164.85" stroke="#000" stroke-width="7.9" stroke-linecap="round"/>
<line x1="1166.60" y1="1582.47" x2="1170.55" y2="1582.47" stroke="#000" stroke-width="7.9" stroke-linecap="round"/>
<line x1="1166.60" y1="1660.12" x2="1170.55" y2="1660.12" stroke="#000" stroke-width="7.9" stroke-linecap="round"/>
<line x1="1166.60" y1="1737.78" x2="1170.55" y2="1737.78" stroke="#000" stroke-width="7.9" stroke-linecap="round"/>
<line x1="1166.60" y1="1815.42" x2="1170.55" y2="1815.42" stroke="#000" stroke-width="7.9" stroke-linecap="round"/>
<line x1="1166.60" y1="1893.08" x2="1170.55" y2="1893.08" stroke="#000" stroke-width="7.9" stroke-linecap="round"/>
<line x1="1166.60" y1="1970.72" x2="1170.55" y2="1970.72" stroke="#000" stroke-width="7.9" stroke-linecap="round"/>
<line x1="1166.60" y1="2048.38" x2="1170.55" y2="2048.38" stroke="#000" stroke-width="7.9" stroke-linecap="round"/>
<line x1="1166.60" y1="2126.02" x2="1170.55" y2="2126.02" stroke="#000" stroke-width="7.9" stroke-linecap="round"/>
<line x1="1315.00" y1="2185.00" x2="1315.00" y2="2194.55" stroke="#000" stroke-width="7.9" stroke-linecap="round"/>
<line x1="1487.00" y1="2185.00" x2="1487.00" y2="2194.55" stroke="#000" stroke-width="7.9" stroke-linecap="round"/>
<line x1="1659.00" y1="2185.00" x2="1659.00" y2="2194.55" stroke="#000" stroke-width="7.9" stroke-linecap="round"/>
<line x1="1831.00" y1="2185.00" x2="1831.00" y2="2194.55" stroke="#000" stroke-width="7.9" stroke-linecap="round"/>
<line x1="2003.00" y1="2185.00" x2="2003.00" y2="2194.55" stroke="#000" stroke-width="7.9" stroke-linecap="round"/>
<line x1="1225.10" y1="2185.00" x2="1225.10" y2="2188.75" stroke="#000" stroke-width="7.9" stroke-linecap="round"/>
<line x1="1298.33" y1="2185.00" x2="1298.33" y2="2188.75" stroke="#000" stroke-width="7.9" stroke-linecap="round"/>
<line x1="1307.13" y1="2185.00" x2="1307.13" y2="2188.75" stroke="#000" stroke-width="7.9" stroke-linecap="round"/>
<line x1="1366.78" y1="2185.00" x2="1366.78" y2="2188.75" stroke="#000" stroke-width="7.9" stroke-linecap="round"/>
<line x1="1397.06" y1="2185.00" x2="1397.06" y2="2188.75" stroke="#000" stroke-width="7.9" stroke-linecap="round"/>
<line x1="1418.55" y1="2185.00" x2="1418.55" y2="2188.75" stroke="#000" stroke-width="7.9" stroke-linecap="round"/>
<line x1="1435.22" y1="2185.00" x2="1435.22" y2="2188.75" stroke="#000" stroke-width="7.9" stroke-linecap="round"/>
<line x1="1448.84" y1="2185.00" x2="1448.84" y2="2188.75" stroke="#000" stroke-width="7.9" stroke-linecap="round"/>
<line x1="1460.36" y1="2185.00" x2="1460.36" y2="2188.75" stroke="#000" stroke-width="7.9" stroke-linecap="round"/>
<line x1="1470.33" y1="2185.00" x2="1470.33" y2="2188.75" stroke="#000" stroke-width="7.9" stroke-linecap="round"/>
<line x1="1479.13" y1="2185.00" x2="1479.13" y2="2188.75" stroke="#000" stroke-width="7.9" stroke-linecap="round"/>
<line x1="1538.78" y1="2185.00" x2="1538.78" y2="2188.75" stroke="#000" stroke-width="7.9" stroke-linecap="round"/>
<line x1="1569.06" y1="2185.00" x2="1569.06" y2="2188.75" stroke="#000" stroke-width="7.9" stroke-linecap="round"/>
<line x1="1590.55" y1="2185.00" x2="1590.55" y2="2188.75" stroke="#000" stroke-width="7.9" stroke-linecap="round"/>
<line x1="1607.22" y1="2185.00" x2="1607.22" y2="2188.75" stroke="#000" stroke-width="7.9" stroke-linecap="round"/>
<line x1="1620.84" y1="2185.00" x2="1620.84" y2="2188.75" stroke="#000" stroke-width="7.9" stroke-linecap="round"/>
<line x1="1632.36" y1="2185.00" x2="1632.36" y2="2188.75" stroke="#000" stroke-width="7.9" stroke-linecap="round"/>
<line x1="1642.33" y1="2185.00" x2="1642.33" y2="2188.75" stroke="#000" stroke-width="7.9" stroke-linecap="round"/>
<line x1="1651.13" y1="2185.00" x2="1651.13" y2="2188.75" stroke="#000" stroke-width="7.9" stroke-linecap="round"/>
<line x1="1710.78" y1="2185.00" x2="1710.78" y2="2188.75" stroke="#000" stroke-width="7.9" stroke-linecap="round"/>
<line x1="1741.06" y1="2185.00" x2="1741.06" y2="2188.75" stroke="#000" stroke-width="7.9" stroke-linecap="round"/>
<line x1="1762.55" y1="2185.00" x2="1762.55" y2="2188.75" stroke="#000" stroke-width="7.9" stroke-linecap="round"/>
<line x1="1779.22" y1="2185.00" x2="1779.22" y2="2188.75" stroke="#000" stroke-width="7.9" stroke-linecap="round"/>
<line x1="1792.84" y1="2185.00" x2="1792.84" y2="2188.75" stroke="#000" stroke-width="7.9" stroke-linecap="round"/>
<line x1="1804.36" y1="2185.00" x2="1804.36" y2="2188.75" stroke="#000" stroke-width="7.9" stroke-linecap="round"/>
<line x1="1814.33" y1="2185.00" x2="1814.33" y2="2188.75" stroke="#000" stroke-width="7.9" stroke-linecap="round"/>
<line x1="1823.13" y1="2185.00" x2="1823.13" y2="2188.75" stroke="#000" stroke-width="7.9" stroke-linecap="round"/>
<line x1="1882.78" y1="2185.00" x2="1882.78" y2="2188.75" stroke="#000" stroke-width="7.9" stroke-linecap="round"/>
<line x1="1913.06" y1="2185.00" x2="1913.06" y2="2188.75" stroke="#000" stroke-width="7.9" stroke-linecap="round"/>
<line x1="1934.55" y1="2185.00" x2="1934.55" y2="2188.75" stroke="#000" stroke-width="7.9" stroke-linecap="round"/>
<line x1="1951.22" y1="2185.00" x2="1951.22" y2="2188.75" stroke="#000" stroke-width="7.9" stroke-linecap="round"/>
<line x1="1964.84" y1="2185.00" x2="1964.84" y2="2188.75" stroke="#000" stroke-width="7.9" stroke-linecap="round"/>
<line x1="1976.36" y1="2185.00" x2="1976.36" y2="2188.75" stroke="#000" stroke-width="7.9" stroke-linecap="round"/>
<line x1="1986.33" y1="2185.00" x2="1986.33" y2="2188.75" stroke="#000" stroke-width="7.9" stroke-linecap="round"/>
<line x1="1995.13" y1="2185.00" x2="1995.13" y2="2188.75" stroke="#000" stroke-width="7.9" stroke-linecap="round"/>
<line x1="1277.80" y1="2196.80" x2="1292.40" y2="2171.80" stroke="#000" stroke-width="7.3" stroke-linecap="round"/>
<line x1="1290.90" y1="2196.80" x2="1305.50" y2="2171.80" stroke="#000" stroke-width="7.3" stroke-linecap="round"/>
<text x="1104.55" y="1634.50" font-size="45.5" textLength="49.35" lengthAdjust="spacingAndGlyphs" >40</text>
<text x="1104.55" y="1712.15" font-size="45.5" textLength="49.35" lengthAdjust="spacingAndGlyphs" >20</text>
<text x="1129.23" y="1789.80" font-size="45.5" textLength="24.67" lengthAdjust="spacingAndGlyphs" >0</text>
<text x="1089.78" y="1867.45" font-size="45.5" textLength="64.12" lengthAdjust="spacingAndGlyphs" >-20</text>
<text x="1089.78" y="1945.10" font-size="45.5" textLength="64.12" lengthAdjust="spacingAndGlyphs" >-40</text>
<text x="1089.78" y="2022.75" font-size="45.5" textLength="64.12" lengthAdjust="spacingAndGlyphs" >-60</text>
<text x="1089.78" y="2100.40" font-size="45.5" textLength="64.12" lengthAdjust="spacingAndGlyphs" >-80</text>
<text x="1065.11" y="2178.05" font-size="45.5" textLength="88.79" lengthAdjust="spacingAndGlyphs" >-100</text>
<path d="M1081.47,2172.31H1090.23V2179.25H1081.47ZM1096.32,2172.31H1104.52V2179.25H1096.32Z" fill="#fff" />
<clipPath id="cR"><rect x="0" y="0" width="2033.6" height="2341"/></clipPath>
<text x="1154.09" y="2237.80" font-size="45.5" textLength="24.67" lengthAdjust="spacingAndGlyphs" clip-path="url(#cR)">0</text>
<text x="1274.32" y="2237.80" font-size="45.5" textLength="86.34" lengthAdjust="spacingAndGlyphs" clip-path="url(#cR)">0.01</text>
<path d="M1337.59,2232.06H1346.35V2239.00H1337.59ZM1352.44,2232.06H1360.63V2239.00H1352.44Z" fill="#fff" clip-path="url(#cR)"/>
<text x="1457.04" y="2237.80" font-size="45.5" textLength="61.67" lengthAdjust="spacingAndGlyphs" clip-path="url(#cR)">0.1</text>
<path d="M1495.63,2232.06H1504.39V2239.00H1495.63ZM1510.47,2232.06H1518.67V2239.00H1510.47Z" fill="#fff" clip-path="url(#cR)"/>
<text x="1649.41" y="2237.80" font-size="45.5" textLength="24.67" lengthAdjust="spacingAndGlyphs" clip-path="url(#cR)">1</text>
<path d="M1651.01,2232.06H1659.77V2239.00H1651.01ZM1665.85,2232.06H1674.05V2239.00H1665.85Z" fill="#fff" clip-path="url(#cR)"/>
<text x="1806.94" y="2237.80" font-size="45.5" textLength="49.35" lengthAdjust="spacingAndGlyphs" clip-path="url(#cR)">10</text>
<path d="M1808.53,2232.06H1817.29V2239.00H1808.53ZM1823.38,2232.06H1831.57V2239.00H1823.38Z" fill="#fff" clip-path="url(#cR)"/>
<text x="1966.92" y="2237.80" font-size="45.5" textLength="74.02" lengthAdjust="spacingAndGlyphs" clip-path="url(#cR)">100</text>
<path d="M1968.52,2232.06H1977.28V2239.00H1968.52ZM1983.37,2232.06H1991.56V2239.00H1983.37Z" fill="#fff" clip-path="url(#cR)"/>
<text x="1382.18" y="2298.80" font-size="52.5" textLength="441.09" lengthAdjust="spacingAndGlyphs" >[Ro 41-0960] (µM)</text>
<path d="M1517.18,2292.34H1527.44V2300.00H1517.18ZM1534.73,2292.34H1544.31V2300.00H1534.73Z" fill="#fff" />
<clipPath id="cp6"><rect x="1166.3" y="1546.0" width="118.8" height="636.0"/><rect x="1298.2" y="1546.0" width="705.0" height="636.0"/></clipPath>
<g clip-path="url(#cp6)">
<rect x="1425.7" y="1777.0" width="17" height="17" fill="#000"/>
<rect x="1477.4" y="1780.8" width="17" height="17" fill="#000"/>
<rect x="1529.1" y="1780.8" width="17" height="17" fill="#000"/>
<rect x="1580.7" y="1784.5" width="17" height="17" fill="#000"/>
<rect x="1632.4" y="1785.3" width="17" height="17" fill="#000"/>
<rect x="1684.1" y="1786.4" width="17" height="17" fill="#000"/>
<rect x="1735.8" y="1803.3" width="17" height="17" fill="#000"/>
<rect x="1787.5" y="1842.8" width="17" height="17" fill="#000"/>
<rect x="1839.1" y="1895.4" width="17" height="17" fill="#000"/>
<rect x="1890.8" y="1949.1" width="17" height="17" fill="#000"/>
<rect x="1942.5" y="1999.9" width="17" height="17" fill="#000"/>
<circle cx="1166.3" cy="1776.6" r="9.2" fill="#ff0000" />
<circle cx="1434.2" cy="1778.7" r="9.2" fill="#ff0000" />
<circle cx="1485.9" cy="1776.1" r="9.2" fill="#ff0000" />
<circle cx="1537.6" cy="1775.0" r="9.2" fill="#ff0000" />
<circle cx="1589.2" cy="1778.0" r="9.2" fill="#ff0000" />
<circle cx="1640.9" cy="1776.9" r="9.2" fill="#ff0000" />
<circle cx="1692.6" cy="1771.2" r="9.2" fill="#ff0000" />
<circle cx="1744.3" cy="1776.1" r="9.2" fill="#ff0000" />
<circle cx="1796.0" cy="1767.8" r="9.2" fill="#ff0000" />
<circle cx="1847.6" cy="1756.6" r="9.2" fill="#ff0000" />
<circle cx="1899.3" cy="1704.7" r="9.2" fill="#ff0000" />
<circle cx="1951.0" cy="1639.7" r="9.2" fill="#ff0000" />
<path d="M1899.3,1694.2V1715.2M1892.1,1694.2H1906.5M1892.1,1715.2H1906.5" stroke="#ff0000" stroke-width="1.7" fill="none"/>
<path d="M1951.0,1618.3V1660.7M1943.8,1618.3H1958.2M1943.8,1660.7H1958.2" stroke="#ff0000" stroke-width="1.7" fill="none"/>
<path d="M1165.0,1776.8 L1173.5,1776.8 L1182.0,1776.8 L1190.5,1776.8 L1199.1,1776.8 L1207.6,1776.8 L1216.1,1776.8 L1224.6,1776.8 L1233.1,1776.8 L1241.6,1776.8 L1250.2,1776.8 L1258.7,1776.9 L1267.2,1776.9 L1275.7,1776.9 L1284.2,1776.9 L1292.7,1776.9 L1301.2,1776.9 L1309.8,1776.9 L1318.3,1776.9 L1326.8,1777.0 L1335.3,1777.0 L1343.8,1777.0 L1352.3,1777.0 L1360.8,1777.1 L1369.4,1777.1 L1377.9,1777.2 L1386.4,1777.2 L1394.9,1777.3 L1403.4,1777.3 L1411.9,1777.4 L1420.5,1777.4 L1429.0,1777.5 L1437.5,1777.6 L1446.0,1777.7 L1454.5,1777.8 L1463.0,1778.0 L1471.5,1778.1 L1480.1,1778.3 L1488.6,1778.4 L1497.1,1778.6 L1505.6,1778.9 L1514.1,1779.1 L1522.6,1779.4 L1531.2,1779.7 L1539.7,1780.0 L1548.2,1780.4 L1556.7,1780.9 L1565.2,1781.3 L1573.7,1781.9 L1582.2,1782.5 L1590.8,1783.1 L1599.3,1783.9 L1607.8,1784.7 L1616.3,1785.6 L1624.8,1786.7 L1633.3,1787.8 L1641.8,1789.1 L1650.4,1790.5 L1658.9,1792.1 L1667.4,1793.8 L1675.9,1795.7 L1684.4,1797.8 L1692.9,1800.2 L1701.5,1802.8 L1710.0,1805.6 L1718.5,1808.7 L1727.0,1812.1 L1735.5,1815.9 L1744.0,1820.0 L1752.5,1824.4 L1761.1,1829.2 L1769.6,1834.4 L1778.1,1839.9 L1786.6,1845.9 L1795.1,1852.3 L1803.6,1859.1 L1812.2,1866.3 L1820.7,1873.9 L1829.2,1881.8 L1837.7,1890.1 L1846.2,1898.7 L1854.7,1907.6 L1863.2,1916.7 L1871.8,1925.9 L1880.3,1935.2 L1888.8,1944.6 L1897.3,1954.0 L1905.8,1963.3 L1914.3,1972.5 L1922.8,1981.5 L1931.4,1990.3 L1939.9,1998.8 L1948.4,2007.0 L1956.9,2014.9 L1965.4,2022.3 L1973.9,2029.4 L1982.5,2036.1 L1991.0,2042.4 L1999.5,2048.3 L2008.0,2053.7" fill="none" stroke="#000" stroke-width="7.5" stroke-linecap="butt" stroke-linejoin="round" />
<path d="M1165.0,1778.5 L1173.5,1778.5 L1182.0,1778.5 L1190.5,1778.5 L1199.1,1778.5 L1207.6,1778.5 L1216.1,1778.5 L1224.6,1778.5 L1233.1,1778.5 L1241.6,1778.5 L1250.2,1778.5 L1258.7,1778.5 L1267.2,1778.5 L1275.7,1778.5 L1284.2,1778.5 L1292.7,1778.5 L1301.2,1778.5 L1309.8,1778.5 L1318.3,1778.5 L1326.8,1778.5 L1335.3,1778.5 L1343.8,1778.5 L1352.3,1778.5 L1360.8,1778.5 L1369.4,1778.5 L1377.9,1778.5 L1386.4,1778.5 L1394.9,1778.5 L1403.4,1778.5 L1411.9,1778.5 L1420.5,1778.5 L1429.0,1778.5 L1437.5,1778.5 L1446.0,1778.5 L1454.5,1778.5 L1463.0,1778.5 L1471.5,1778.5 L1480.1,1778.5 L1488.6,1778.5 L1497.1,1778.5 L1505.6,1778.5 L1514.1,1778.5 L1522.6,1778.5 L1531.2,1778.5 L1539.7,1778.5 L1548.2,1778.5 L1556.7,1778.5 L1565.2,1778.5 L1573.7,1778.5 L1582.2,1778.5 L1590.8,1778.5 L1599.3,1778.5 L1607.8,1778.5 L1616.3,1778.5 L1624.8,1778.5 L1633.3,1778.4 L1641.8,1778.4 L1650.4,1778.4 L1658.9,1778.4 L1667.4,1778.3 L1675.9,1778.3 L1684.4,1778.2 L1692.9,1778.1 L1701.5,1778.0 L1710.0,1777.9 L1718.5,1777.7 L1727.0,1777.5 L1735.5,1777.3 L1744.0,1776.9 L1752.5,1776.5 L1761.1,1776.0 L1769.6,1775.3 L1778.1,1774.5 L1786.6,1773.4 L1795.1,1772.1 L1803.6,1770.5 L1812.2,1768.5 L1820.7,1766.0 L1829.2,1762.9 L1837.7,1759.2 L1846.2,1754.7 L1854.7,1749.2 L1863.2,1742.9 L1871.8,1735.5 L1880.3,1727.0 L1888.8,1717.5 L1897.3,1707.1 L1905.8,1696.0 L1914.3,1684.5 L1922.8,1672.8 L1931.4,1661.3 L1939.9,1650.3 L1948.4,1640.0 L1956.9,1630.6 L1965.4,1622.2 L1973.9,1614.9 L1982.5,1608.6 L1991.0,1603.3 L1999.5,1598.9 L2008.0,1595.2" fill="none" stroke="#ff0000" stroke-width="8.9" stroke-linecap="butt" stroke-linejoin="round" />
</g>
<rect x="1568.0" y="2131.4" width="8.6" height="4.0" fill="#000"/>
</svg></body></html>
